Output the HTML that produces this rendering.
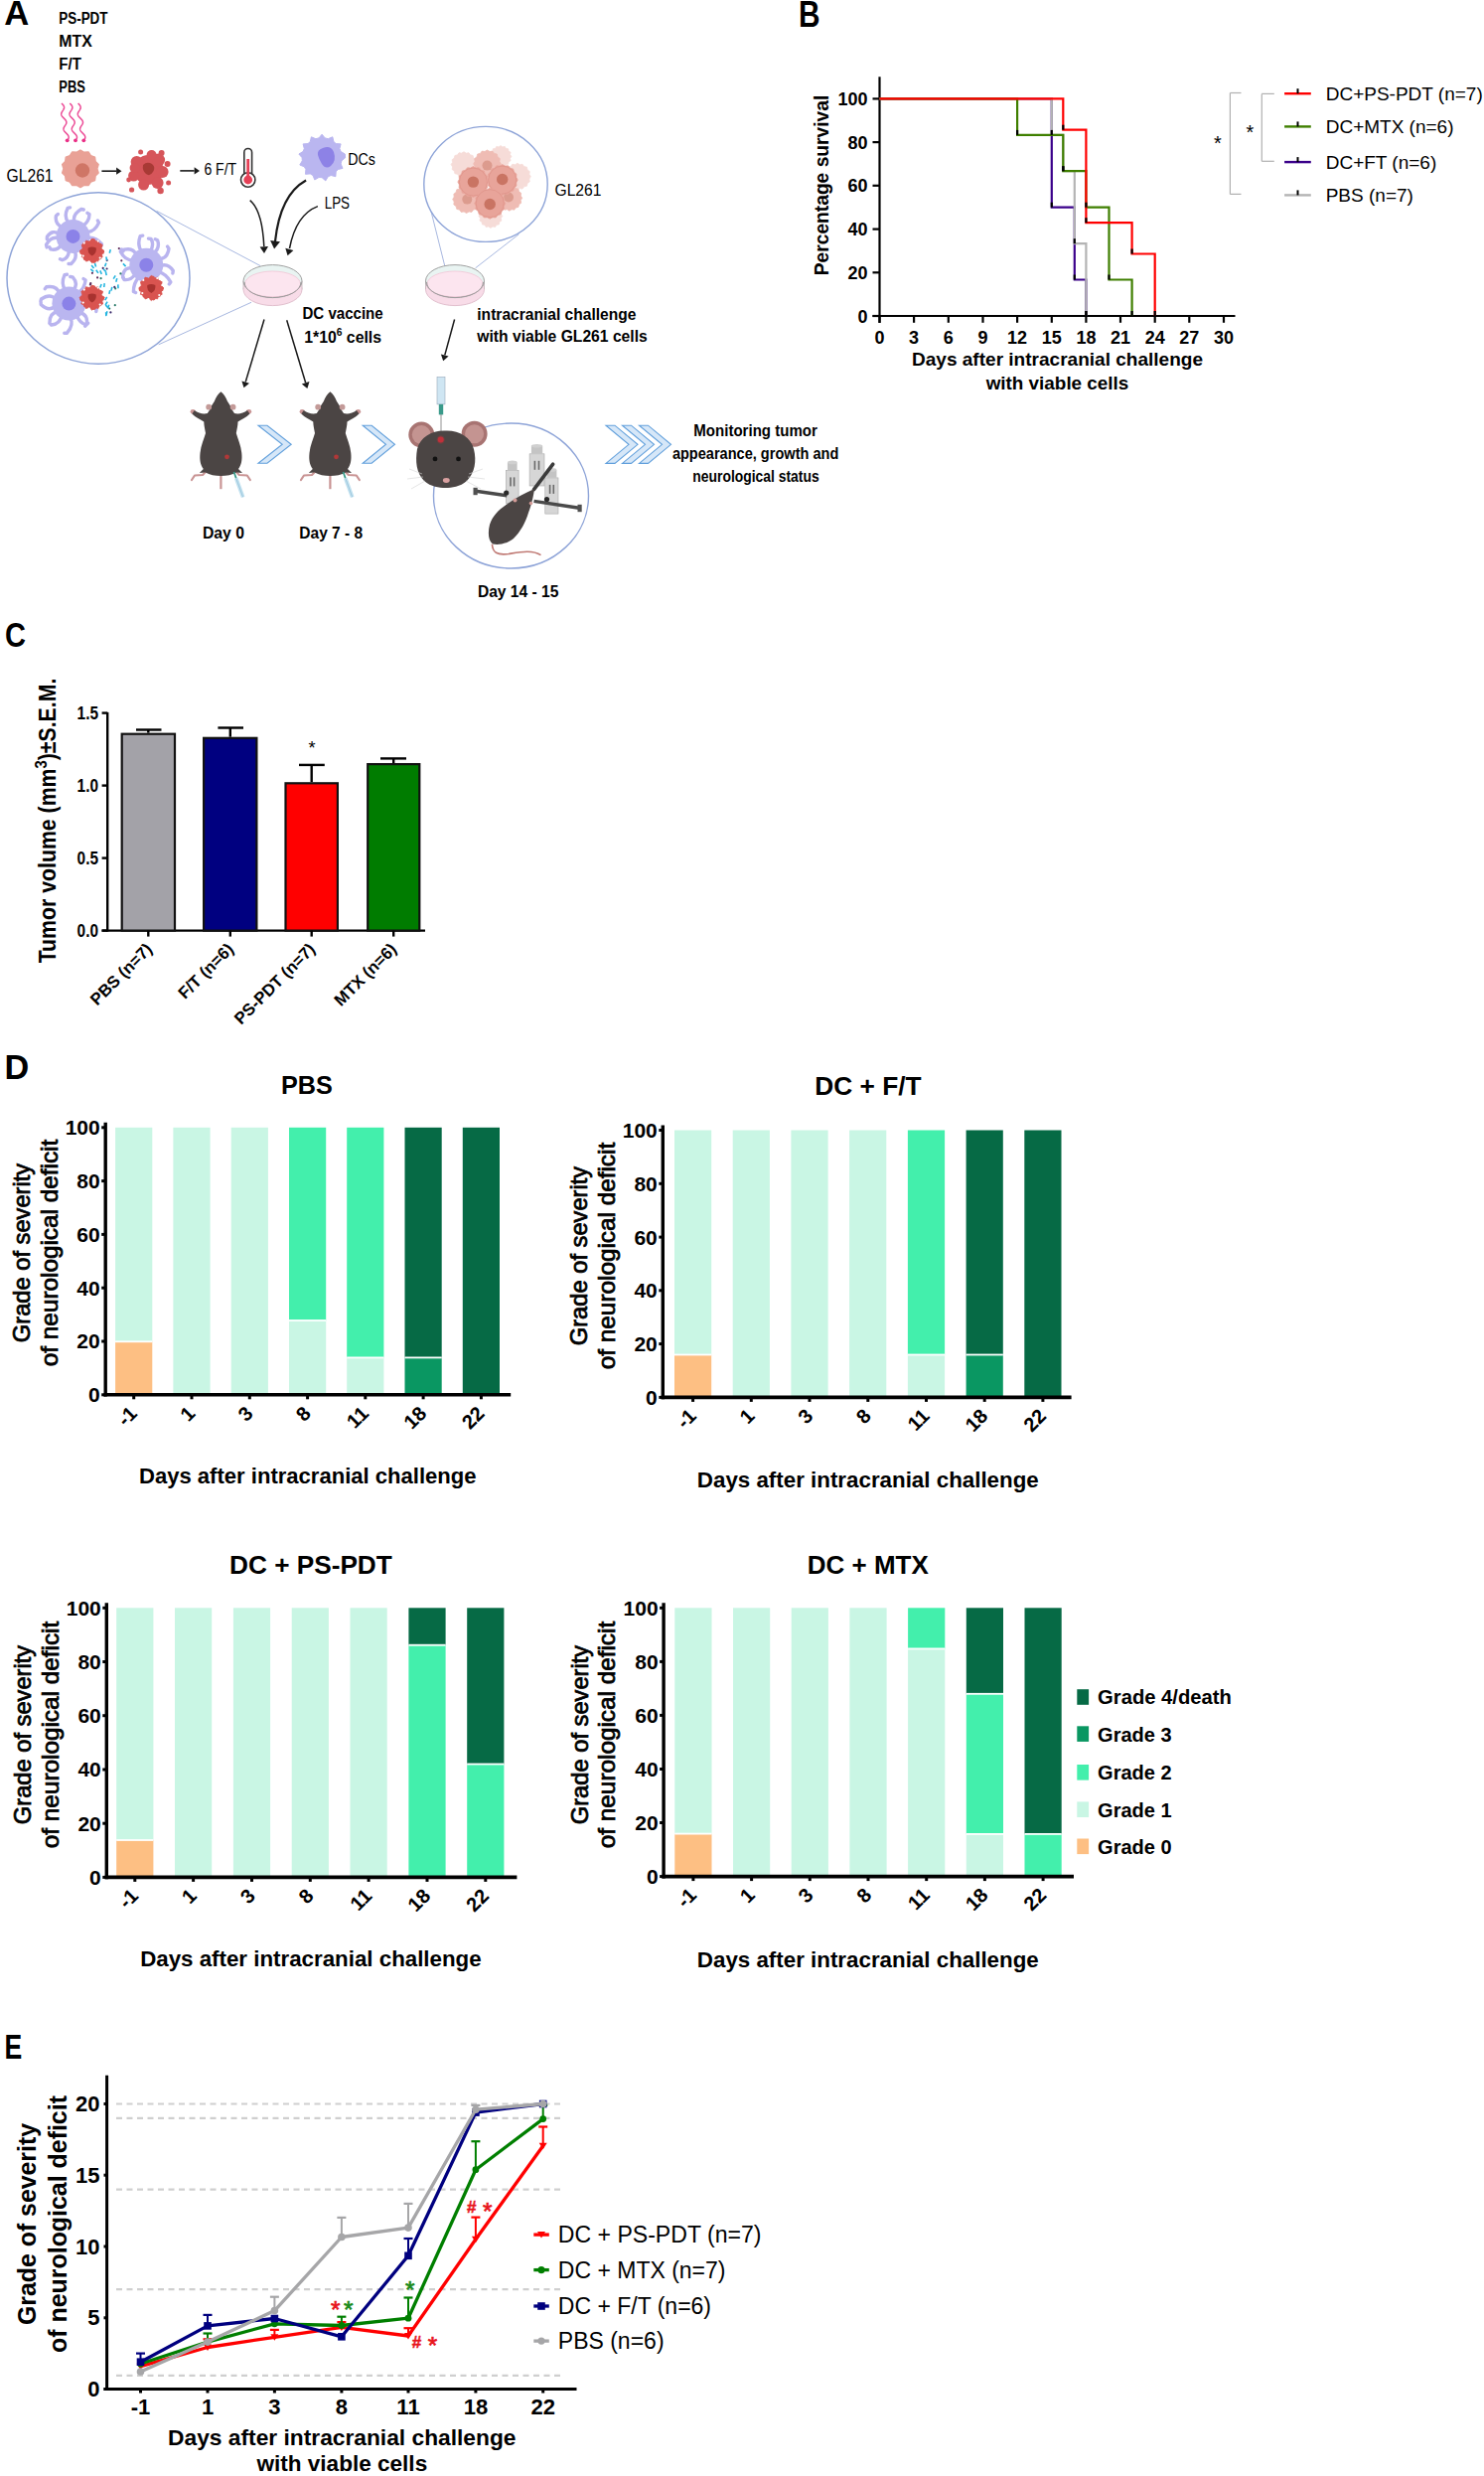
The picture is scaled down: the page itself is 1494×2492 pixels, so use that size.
<!DOCTYPE html>
<html><head><meta charset="utf-8"><title>Figure</title><style>html,body{margin:0;padding:0;background:#fff;}svg{display:block;font-family:"Liberation Sans",sans-serif;}text{font-family:"Liberation Sans",sans-serif;}</style></head><body>
<svg width="1494" height="2492" viewBox="0 0 1494 2492" font-family="Liberation Sans, sans-serif">
<rect width="1494" height="2492" fill="#fff"/>
<text x="0" y="0" font-size="35.90" font-weight="700" transform="translate(4.19 24.90) scale(0.965 1)">A</text>
<text x="59.3" y="24.3" font-size="16" font-weight="700" text-anchor="start" fill="#000" textLength="49.2" lengthAdjust="spacingAndGlyphs" >PS-PDT</text>
<text x="59.3" y="47.2" font-size="16" font-weight="700" text-anchor="start" fill="#000" textLength="33.5" lengthAdjust="spacingAndGlyphs" >MTX</text>
<text x="59.3" y="70.0" font-size="16" font-weight="700" text-anchor="start" fill="#000" textLength="22.5" lengthAdjust="spacingAndGlyphs" >F/T</text>
<text x="59.3" y="92.7" font-size="16" font-weight="700" text-anchor="start" fill="#000" textLength="26.5" lengthAdjust="spacingAndGlyphs" >PBS</text>
<polyline points="62.00,104.00 62.59,104.60 63.15,105.20 63.64,105.80 64.06,106.40 64.36,107.00 64.55,107.60 64.61,108.20 64.54,108.80 64.37,109.40 64.09,110.00 63.74,110.60 63.35,111.20 62.94,111.80 62.55,112.40 62.20,113.00 61.93,113.60 61.75,114.20 61.69,114.80 61.75,115.40 61.93,116.00 62.24,116.60 62.65,117.20 63.14,117.80 63.70,118.40 64.29,119.00 64.88,119.60 65.44,120.20 65.94,120.80 66.35,121.40 66.65,122.00 66.84,122.60 66.90,123.20 66.83,123.80 66.66,124.40 66.38,125.00 66.04,125.60 65.64,126.20 65.23,126.80 64.84,127.40 64.49,128.00 64.22,128.60 64.04,129.20 63.98,129.80 64.04,130.40 64.22,131.00 64.53,131.60 64.94,132.20 65.44,132.80 65.99,133.40 66.58,134.00 67.17,134.60 67.73,135.20 68.23,135.80 68.64,136.40 68.94,137.00 69.13,137.60 69.19,138.20 69.13,138.80 68.95,139.40 68.68,140.00" fill="none" stroke="#ec4d97" stroke-width="1.5"/>
<circle cx="67.7" cy="141.3" r="1.9" fill="#ea2f86" />
<polyline points="70.30,104.00 70.89,104.60 71.45,105.20 71.94,105.80 72.36,106.40 72.66,107.00 72.85,107.60 72.91,108.20 72.84,108.80 72.67,109.40 72.39,110.00 72.04,110.60 71.65,111.20 71.24,111.80 70.85,112.40 70.50,113.00 70.23,113.60 70.05,114.20 69.99,114.80 70.05,115.40 70.23,116.00 70.54,116.60 70.95,117.20 71.44,117.80 72.00,118.40 72.59,119.00 73.18,119.60 73.74,120.20 74.24,120.80 74.65,121.40 74.95,122.00 75.14,122.60 75.20,123.20 75.13,123.80 74.96,124.40 74.68,125.00 74.34,125.60 73.94,126.20 73.53,126.80 73.14,127.40 72.79,128.00 72.52,128.60 72.34,129.20 72.28,129.80 72.34,130.40 72.52,131.00 72.83,131.60 73.24,132.20 73.74,132.80 74.29,133.40 74.88,134.00 75.47,134.60 76.03,135.20 76.53,135.80 76.94,136.40 77.24,137.00 77.43,137.60 77.49,138.20 77.43,138.80 77.25,139.40 76.98,140.00" fill="none" stroke="#ec4d97" stroke-width="1.5"/>
<circle cx="76.0" cy="141.3" r="1.9" fill="#ea2f86" />
<polyline points="78.60,104.00 79.19,104.60 79.75,105.20 80.24,105.80 80.66,106.40 80.96,107.00 81.15,107.60 81.21,108.20 81.14,108.80 80.97,109.40 80.69,110.00 80.34,110.60 79.95,111.20 79.54,111.80 79.15,112.40 78.80,113.00 78.53,113.60 78.35,114.20 78.29,114.80 78.35,115.40 78.53,116.00 78.84,116.60 79.25,117.20 79.74,117.80 80.30,118.40 80.89,119.00 81.48,119.60 82.04,120.20 82.54,120.80 82.95,121.40 83.25,122.00 83.44,122.60 83.50,123.20 83.43,123.80 83.26,124.40 82.98,125.00 82.64,125.60 82.24,126.20 81.83,126.80 81.44,127.40 81.09,128.00 80.82,128.60 80.64,129.20 80.58,129.80 80.64,130.40 80.82,131.00 81.13,131.60 81.54,132.20 82.04,132.80 82.59,133.40 83.18,134.00 83.77,134.60 84.33,135.20 84.83,135.80 85.24,136.40 85.54,137.00 85.73,137.60 85.79,138.20 85.73,138.80 85.55,139.40 85.28,140.00" fill="none" stroke="#ec4d97" stroke-width="1.5"/>
<circle cx="84.3" cy="141.3" r="1.9" fill="#ea2f86" />
<polygon points="97.8,169.8 99.1,174.0 96.1,177.1 95.5,181.5 91.4,183.0 89.0,186.6 84.7,186.3 80.9,188.5 77.1,186.3 72.8,186.6 70.4,183.0 66.3,181.5 65.7,177.1 62.7,174.0 64.0,169.8 62.7,165.6 65.7,162.5 66.3,158.1 70.4,156.6 72.8,153.0 77.1,153.3 80.9,151.1 84.7,153.3 89.0,153.0 91.4,156.6 95.5,158.1 96.1,162.5 99.1,165.6" fill="#e9a196" stroke="#e9a196" stroke-width="1.5" stroke-linejoin="round"/>
<circle cx="83.0" cy="171.5" r="7.2" fill="#cf7666" />
<line x1="102.4" y1="172.2" x2="117.1" y2="172.2" stroke="#1a1a1a" stroke-width="1.6" />
<path d="M122.5,172.2 L117.1,168.6 L117.1,175.8 Z" fill="#1a1a1a" stroke="none" stroke-width="1" />
<line x1="181.3" y1="171.9" x2="195.6" y2="171.9" stroke="#1a1a1a" stroke-width="1.6" />
<path d="M201.0,171.9 L195.6,168.3 L195.6,175.5 Z" fill="#1a1a1a" stroke="none" stroke-width="1" />
<circle cx="149.6" cy="171.0" r="15.0" fill="#d6555a" />
<circle cx="137.6" cy="163.0" r="6.0" fill="#d6555a" />
<circle cx="159.6" cy="161.0" r="6.5" fill="#d6555a" />
<circle cx="163.6" cy="173.0" r="6.0" fill="#d6555a" />
<circle cx="158.6" cy="184.0" r="6.0" fill="#d6555a" />
<circle cx="144.6" cy="186.0" r="5.5" fill="#d6555a" />
<circle cx="134.6" cy="177.0" r="5.5" fill="#d6555a" />
<circle cx="135.6" cy="169.0" r="5.0" fill="#d6555a" />
<circle cx="152.6" cy="156.0" r="5.0" fill="#d6555a" />
<circle cx="141.6" cy="153.0" r="2.5" fill="#d6555a" />
<circle cx="162.6" cy="154.0" r="3.0" fill="#d6555a" />
<circle cx="168.6" cy="165.0" r="3.0" fill="#d6555a" />
<circle cx="129.6" cy="181.0" r="2.4" fill="#d6555a" />
<circle cx="132.6" cy="191.0" r="2.6" fill="#d6555a" />
<circle cx="161.6" cy="192.0" r="3.2" fill="#d6555a" />
<circle cx="169.6" cy="184.0" r="2.5" fill="#d6555a" />
<path d="M144,166 q4,-4 9,-1 q4,3 1,8 q-3,5 -7,2 q-4,-3 -3,-9 Z" fill="#a83a35" stroke="none" stroke-width="1" />
<text x="205.4" y="175.6" font-size="16" font-weight="400" text-anchor="start" fill="#000" textLength="32.8" lengthAdjust="spacingAndGlyphs" >6 F/T</text>
<rect x="245.8" y="149.5" width="7.8" height="30" rx="3.9" fill="#fff" stroke="#333" stroke-width="1.6"/>
<circle cx="249.7" cy="181.0" r="7.2" fill="#fff" stroke="#333" stroke-width="1.6"/>
<rect x="248.3" y="160.0" width="2.8" height="21.0" fill="#e54056" />
<circle cx="249.7" cy="181.0" r="4.4" fill="#e54056" />
<polygon points="347.6,158.7 343.9,161.8 343.1,164.9 345.0,169.4 340.3,170.5 338.2,172.8 337.9,177.7 333.2,176.5 330.3,177.7 327.8,181.9 324.1,178.7 321.0,178.5 316.8,181.0 315.0,176.5 312.3,174.9 307.5,175.3 307.9,170.5 306.3,167.8 301.8,166.0 304.3,161.8 304.1,158.7 300.9,155.0 305.1,152.5 306.3,149.6 305.1,144.9 310.0,144.6 312.3,142.5 313.4,137.8 317.9,139.7 321.0,138.9 324.1,135.2 327.2,138.9 330.3,139.7 334.8,137.8 335.9,142.5 338.2,144.6 343.1,144.9 341.9,149.6 343.1,152.5 347.3,155.0" fill="#bab6f0" stroke="#bab6f0" stroke-width="1" stroke-linejoin="round"/>
<path d="M325,149 q8,-3 11,4 q3,9 -3,14 q-5,4 -9,-2 q-3,-5 -4,-9 q-1,-5 5,-7 Z" fill="#8d82e6" stroke="none" stroke-width="1" />
<text x="350.3" y="165.5" font-size="16.5" font-weight="400" text-anchor="start" fill="#000" textLength="27.7" lengthAdjust="spacingAndGlyphs" >DCs</text>
<text x="326.7" y="210.1" font-size="16.5" font-weight="400" text-anchor="start" fill="#000" textLength="25.3" lengthAdjust="spacingAndGlyphs" >LPS</text>
<path d="M251.7,201.7 Q264,212 265.8,248" fill="none" stroke="#1a1a1a" stroke-width="1.5" />
<path d="M266.0,255.0 L270.0,248.1 L261.6,248.4 Z" fill="#1a1a1a" stroke="none" stroke-width="1" />
<path d="M308.1,181.5 Q282,196 277,243" fill="none" stroke="#1a1a1a" stroke-width="2.2" />
<path d="M276.1,250.5 L282.0,243.2 L272.1,242.0 Z" fill="#1a1a1a" stroke="none" stroke-width="1" />
<path d="M319.9,207.6 Q298,216 291.5,250" fill="none" stroke="#1a1a1a" stroke-width="1.5" />
<path d="M289.6,257.3 L295.4,251.9 L287.3,249.7 Z" fill="#1a1a1a" stroke="none" stroke-width="1" />
<line x1="157.7" y1="212.3" x2="262.0" y2="267.5" stroke="#a8b8e0" stroke-width="1" />
<line x1="159.7" y1="346.8" x2="253.0" y2="304.3" stroke="#a8b8e0" stroke-width="1" />
<ellipse cx="274.5" cy="291.29999999999995" rx="29.5" ry="16.3" fill="#f8dce8" stroke="#d9b3c3" stroke-width="0.8"/>
<rect x="245.0" y="282.9" width="59.0" height="8.4" fill="#f8dce8" />
<line x1="245.0" y1="282.9" x2="245.0" y2="291.3" stroke="#c4b4ba" stroke-width="0.8" />
<line x1="304.0" y1="282.9" x2="304.0" y2="291.3" stroke="#c4b4ba" stroke-width="0.8" />
<ellipse cx="274.5" cy="282.9" rx="29.5" ry="16.3" fill="#e9f4f2" stroke="#a0a0a0" stroke-width="1"/>
<ellipse cx="274.5" cy="285.9" rx="28.0" ry="12.9" fill="#fce5ef" stroke="#f0b8cc" stroke-width="0.6"/>
<path d="M246.0,283.9 A28.5,15.700000000000001 0 0 0 303.0,283.9" fill="none" stroke="#9a9a9a" stroke-width="1"/>
<ellipse cx="99" cy="280" rx="92" ry="86.2" fill="#fff" stroke="#8ea4d8" stroke-width="1.5"/>
<path d="M82.1,249.0 Q85.1,256.6 93.8,259.1 L95.6,257.3 M74.7,251.8 Q78.9,259.2 71.5,265.6 L69.0,265.5 M69.4,251.3 Q69.7,259.6 62.8,261.7 L60.5,260.7 M62.2,246.1 Q57.2,252.7 51.0,250.9 L49.8,248.7 M59.6,239.8 Q51.5,237.1 46.5,246.4 L47.1,248.9 M59.7,235.6 Q52.7,230.6 47.4,238.2 L47.3,240.7 M63.1,228.6 Q55.1,225.9 56.4,217.2 L58.3,215.5 M69.1,224.6 Q63.8,218.2 68.1,209.4 L70.5,208.9 M75.1,224.0 Q72.2,215.9 81.8,210.4 L84.2,211.0 M82.9,227.6 Q89.9,223.2 90.0,215.7 L88.0,214.3 M86.7,233.3 Q95.2,234.0 99.5,224.1 L98.4,221.9 M87.4,239.7 Q95.5,237.8 102.4,245.6 L101.8,248.0 M84.9,246.0 Q93.1,248.0 93.0,256.2 L91.3,258.1" fill="none" stroke="#b9b4ef" stroke-width="3.4" stroke-linecap="round" stroke-linejoin="round"/>
<circle cx="73.5" cy="237.9" r="17.0" fill="#bab6f0" />
<circle cx="73.5" cy="237.9" r="7.0" fill="#8b82e8" />
<path d="M140.1,278.7 Q134.4,284.5 134.4,293.5 L136.6,294.5 M136.5,275.6 Q131.9,282.4 125.1,281.5 L123.7,279.3 M133.7,270.1 Q125.3,268.1 123.5,277.5 L124.4,279.8 M134.1,262.0 Q125.8,262.2 121.3,253.3 L122.5,251.1 M137.3,256.9 Q134.4,248.9 125.1,251.2 L123.6,253.2 M142.8,253.4 Q137.7,246.9 141.2,237.6 L143.7,237.1 M151.2,253.2 Q155.5,246.3 152.0,240.5 L149.5,240.1 M154.7,254.8 Q161.3,249.7 158.6,241.8 L156.3,240.8 M159.9,260.6 Q168.5,260.8 170.0,250.2 L168.6,248.1 M161.3,267.5 Q169.2,264.4 174.3,272.5 L173.9,275.0 M159.5,273.6 Q167.4,275.6 171.8,283.9 L170.3,285.9 M153.7,279.1 Q160.1,284.6 156.7,294.0 L154.3,294.8 M148.9,280.6 Q152.6,288.0 146.9,293.8 L144.4,293.8" fill="none" stroke="#b9b4ef" stroke-width="3.4" stroke-linecap="round" stroke-linejoin="round"/>
<circle cx="147.3" cy="266.7" r="17.0" fill="#bab6f0" />
<circle cx="147.3" cy="266.7" r="7.0" fill="#8b82e8" />
<path d="M55.7,308.4 Q48.9,313.7 41.2,306.5 L41.1,304.0 M56.2,301.0 Q50.2,294.9 41.5,301.0 L40.9,303.4 M59.8,295.4 Q57.5,287.1 46.7,288.8 L45.2,290.7 M65.7,292.1 Q61.1,285.2 65.0,276.6 L67.5,276.2 M73.6,292.3 Q79.4,286.0 73.2,278.9 L70.7,278.5 M78.5,295.0 Q85.3,290.4 86.1,281.9 L84.0,280.6 M82.9,301.8 Q91.3,303.2 93.1,294.6 L92.1,292.3 M83.4,306.2 Q91.3,303.3 97.2,311.1 L96.8,313.6 M80.2,314.5 Q88.6,316.3 87.4,326.5 L85.6,328.2 M77.2,317.2 Q79.9,324.9 86.8,326.9 L88.7,325.2 M70.6,319.5 Q74.8,326.9 67.3,335.4 L64.8,335.3 M62.1,317.6 Q60.6,325.8 51.9,327.0 L49.9,325.5 M58.0,313.7 Q49.6,315.1 49.9,325.2 L51.6,327.0" fill="none" stroke="#b9b4ef" stroke-width="3.4" stroke-linecap="round" stroke-linejoin="round"/>
<circle cx="69.4" cy="305.6" r="17.0" fill="#bab6f0" />
<circle cx="69.4" cy="305.6" r="7.0" fill="#8b82e8" />
<polygon points="104.8,252.6 102.2,255.2 103.2,258.6 99.7,259.6 98.8,263.1 95.3,262.1 92.7,264.7 90.1,262.1 86.7,263.1 85.7,259.6 82.2,258.6 83.2,255.2 80.6,252.6 83.2,250.0 82.2,246.5 85.7,245.6 86.6,242.1 90.1,243.1 92.7,240.5 95.3,243.1 98.8,242.1 99.7,245.6 103.2,246.5 102.2,250.0" fill="#d95450" stroke="#d95450" stroke-width="0.8" stroke-linejoin="round" />
<circle cx="85.7" cy="246.6" r="3.0" fill="#d95450" />
<circle cx="99.7" cy="247.6" r="3.2" fill="#d95450" />
<circle cx="99.7" cy="258.6" r="3.0" fill="#d95450" />
<circle cx="86.7" cy="259.6" r="3.0" fill="#d95450" />
<circle cx="93.7" cy="242.6" r="2.6" fill="#d95450" />
<circle cx="82.7" cy="253.6" r="2.6" fill="#d95450" />
<circle cx="102.7" cy="253.6" r="2.4" fill="#d95450" />
<circle cx="94.7" cy="262.6" r="2.4" fill="#d95450" />
<path d="M88.7,249.6 q4,-2 8,0 q1,5 -4,8 q-5,-3 -4,-8 Z" fill="#a8322f" stroke="none" stroke-width="1" />
<circle cx="83.7" cy="257.6" r="1.1" fill="#ffffff" />
<circle cx="100.7" cy="259.6" r="1.1" fill="#ffffff" />
<circle cx="84.7" cy="244.6" r="1.1" fill="#ffffff" />
<circle cx="98.7" cy="242.6" r="1.1" fill="#ffffff" />
<circle cx="103.7" cy="249.6" r="1.1" fill="#ffffff" />
<circle cx="89.7" cy="263.6" r="1.1" fill="#ffffff" />
<polygon points="105.3,299.6 102.7,302.3 103.6,305.9 100.0,306.9 99.0,310.5 95.4,309.6 92.7,312.2 90.0,309.6 86.4,310.5 85.4,306.9 81.8,305.9 82.7,302.3 80.1,299.6 82.7,296.9 81.8,293.3 85.4,292.3 86.4,288.7 90.0,289.6 92.7,287.0 95.4,289.6 99.0,288.7 100.0,292.3 103.6,293.3 102.7,296.9" fill="#d95450" stroke="#d95450" stroke-width="0.8" stroke-linejoin="round" />
<circle cx="85.7" cy="293.6" r="3.0" fill="#d95450" />
<circle cx="99.7" cy="294.6" r="3.2" fill="#d95450" />
<circle cx="99.7" cy="305.6" r="3.0" fill="#d95450" />
<circle cx="86.7" cy="306.6" r="3.0" fill="#d95450" />
<circle cx="93.7" cy="289.6" r="2.6" fill="#d95450" />
<circle cx="82.7" cy="300.6" r="2.6" fill="#d95450" />
<circle cx="102.7" cy="300.6" r="2.4" fill="#d95450" />
<circle cx="94.7" cy="309.6" r="2.4" fill="#d95450" />
<path d="M88.7,296.6 q4,-2 8,0 q1,5 -4,8 q-5,-3 -4,-8 Z" fill="#a8322f" stroke="none" stroke-width="1" />
<circle cx="83.7" cy="304.6" r="1.1" fill="#ffffff" />
<circle cx="100.7" cy="306.6" r="1.1" fill="#ffffff" />
<circle cx="84.7" cy="291.6" r="1.1" fill="#ffffff" />
<circle cx="98.7" cy="289.6" r="1.1" fill="#ffffff" />
<circle cx="103.7" cy="296.6" r="1.1" fill="#ffffff" />
<circle cx="89.7" cy="310.6" r="1.1" fill="#ffffff" />
<polygon points="164.9,290.0 162.3,292.7 163.2,296.3 159.6,297.3 158.6,300.9 155.0,300.0 152.3,302.6 149.6,300.0 146.0,300.9 145.0,297.3 141.4,296.3 142.3,292.7 139.7,290.0 142.3,287.3 141.4,283.7 145.0,282.7 146.0,279.1 149.6,280.0 152.3,277.4 155.0,280.0 158.6,279.1 159.6,282.7 163.2,283.7 162.3,287.3" fill="#d95450" stroke="#d95450" stroke-width="0.8" stroke-linejoin="round" />
<circle cx="145.3" cy="284.0" r="3.0" fill="#d95450" />
<circle cx="159.3" cy="285.0" r="3.2" fill="#d95450" />
<circle cx="159.3" cy="296.0" r="3.0" fill="#d95450" />
<circle cx="146.3" cy="297.0" r="3.0" fill="#d95450" />
<circle cx="153.3" cy="280.0" r="2.6" fill="#d95450" />
<circle cx="142.3" cy="291.0" r="2.6" fill="#d95450" />
<circle cx="162.3" cy="291.0" r="2.4" fill="#d95450" />
<circle cx="154.3" cy="300.0" r="2.4" fill="#d95450" />
<path d="M148.3,287.0 q4,-2 8,0 q1,5 -4,8 q-5,-3 -4,-8 Z" fill="#a8322f" stroke="none" stroke-width="1" />
<circle cx="143.3" cy="295.0" r="1.1" fill="#ffffff" />
<circle cx="160.3" cy="297.0" r="1.1" fill="#ffffff" />
<circle cx="144.3" cy="282.0" r="1.1" fill="#ffffff" />
<circle cx="158.3" cy="280.0" r="1.1" fill="#ffffff" />
<circle cx="163.3" cy="287.0" r="1.1" fill="#ffffff" />
<circle cx="149.3" cy="301.0" r="1.1" fill="#ffffff" />
<circle cx="119.8" cy="250.1" r="1.1" fill="#5a2a5a" />
<circle cx="90.9" cy="286.4" r="1.1" fill="#5a2a5a" />
<circle cx="107.7" cy="262.1" r="1.1" fill="#5a2a5a" />
<line x1="108.1" y1="303.7" x2="106.1" y2="307.0" stroke="#23b5e0" stroke-width="1.6" />
<line x1="118.8" y1="286.4" x2="119.0" y2="290.2" stroke="#23b5e0" stroke-width="1.6" />
<line x1="106.6" y1="314.3" x2="106.9" y2="318.1" stroke="#23b5e0" stroke-width="1.6" />
<circle cx="92.9" cy="274.8" r="1.1" fill="#5a2a5a" />
<line x1="92.1" y1="266.9" x2="94.5" y2="269.9" stroke="#23b5e0" stroke-width="1.6" />
<circle cx="116.2" cy="290.4" r="1.1" fill="#2a7a6a" />
<circle cx="115.3" cy="288.9" r="1.1" fill="#3a2a6a" />
<circle cx="121.4" cy="275.4" r="1.1" fill="#2a7a6a" />
<circle cx="110.2" cy="310.6" r="1.1" fill="#2a7a6a" />
<circle cx="122.3" cy="262.3" r="1.1" fill="#5a2a5a" />
<circle cx="101.6" cy="280.2" r="1.1" fill="#2a7a6a" />
<line x1="123.9" y1="265.4" x2="126.6" y2="268.1" stroke="#23b5e0" stroke-width="1.6" />
<line x1="107.7" y1="298.8" x2="105.8" y2="302.1" stroke="#23b5e0" stroke-width="1.6" />
<line x1="107.9" y1="313.3" x2="107.0" y2="317.0" stroke="#23b5e0" stroke-width="1.6" />
<circle cx="115.8" cy="307.2" r="1.1" fill="#2a7a6a" />
<circle cx="103.7" cy="269.9" r="1.1" fill="#3a2a6a" />
<line x1="116.2" y1="277.4" x2="114.2" y2="280.6" stroke="#23b5e0" stroke-width="1.6" />
<line x1="110.7" y1="292.2" x2="109.9" y2="295.9" stroke="#23b5e0" stroke-width="1.6" />
<line x1="102.1" y1="286.0" x2="100.8" y2="289.6" stroke="#23b5e0" stroke-width="1.6" />
<line x1="100.8" y1="272.4" x2="102.3" y2="275.9" stroke="#23b5e0" stroke-width="1.6" />
<line x1="117.8" y1="280.1" x2="116.8" y2="283.7" stroke="#23b5e0" stroke-width="1.6" />
<line x1="106.3" y1="306.9" x2="108.8" y2="309.8" stroke="#23b5e0" stroke-width="1.6" />
<line x1="106.9" y1="264.7" x2="105.6" y2="268.3" stroke="#23b5e0" stroke-width="1.6" />
<circle cx="107.6" cy="270.5" r="1.1" fill="#3a2a6a" />
<circle cx="98.1" cy="279.4" r="1.1" fill="#5a2a5a" />
<line x1="95.5" y1="265.0" x2="96.6" y2="268.6" stroke="#23b5e0" stroke-width="1.6" />
<line x1="105.2" y1="285.2" x2="104.7" y2="289.0" stroke="#23b5e0" stroke-width="1.6" />
<line x1="112.8" y1="288.8" x2="112.0" y2="292.6" stroke="#23b5e0" stroke-width="1.6" />
<line x1="109.7" y1="306.8" x2="108.6" y2="310.5" stroke="#23b5e0" stroke-width="1.6" />
<line x1="106.4" y1="273.3" x2="107.2" y2="277.1" stroke="#23b5e0" stroke-width="1.6" />
<line x1="106.8" y1="258.5" x2="107.8" y2="262.2" stroke="#23b5e0" stroke-width="1.6" />
<circle cx="91.3" cy="285.2" r="1.1" fill="#5a2a5a" />
<line x1="91.3" y1="270.8" x2="94.2" y2="273.3" stroke="#23b5e0" stroke-width="1.6" />
<line x1="96.8" y1="271.7" x2="98.9" y2="274.9" stroke="#23b5e0" stroke-width="1.6" />
<line x1="104.1" y1="270.9" x2="106.8" y2="273.5" stroke="#23b5e0" stroke-width="1.6" />
<circle cx="111.4" cy="314.4" r="1.1" fill="#3a2a6a" />
<line x1="111.2" y1="251.1" x2="110.3" y2="254.8" stroke="#23b5e0" stroke-width="1.6" />
<line x1="431.7" y1="203.5" x2="447.9" y2="268.2" stroke="#a8b8e0" stroke-width="1" />
<line x1="522.3" y1="235.8" x2="478.6" y2="269.8" stroke="#a8b8e0" stroke-width="1" />
<ellipse cx="489" cy="185.4" rx="62.2" ry="58" fill="#fff" stroke="#8ea4d8" stroke-width="1.4"/>
<polygon points="479.9,165.6 478.4,167.9 478.9,170.5 476.7,172.1 476.1,174.7 473.5,175.3 471.9,177.5 469.3,177.0 467.0,178.5 464.7,177.0 462.1,177.5 460.5,175.3 457.9,174.7 457.3,172.1 455.1,170.5 455.6,167.9 454.1,165.6 455.6,163.3 455.1,160.7 457.3,159.1 457.9,156.5 460.5,155.9 462.1,153.7 464.7,154.2 467.0,152.7 469.3,154.2 471.9,153.7 473.5,155.9 476.1,156.5 476.7,159.1 478.9,160.7 478.4,163.3" fill="#f6dcd8" stroke="#f6dcd8" stroke-width="0.8" stroke-linejoin="round" />
<polygon points="534.3,177.7 532.8,180.1 533.3,182.8 531.0,184.4 530.4,187.2 527.6,187.8 526.0,190.1 523.3,189.6 520.9,191.1 518.5,189.6 515.8,190.1 514.2,187.8 511.4,187.2 510.8,184.4 508.5,182.8 509.0,180.1 507.5,177.7 509.0,175.3 508.5,172.6 510.8,171.0 511.4,168.2 514.2,167.6 515.8,165.3 518.5,165.8 520.9,164.3 523.3,165.8 526.0,165.3 527.6,167.6 530.4,168.2 531.0,171.0 533.3,172.6 532.8,175.3" fill="#f6dcd8" stroke="#f6dcd8" stroke-width="0.8" stroke-linejoin="round" />
<polygon points="505.8,217.5 504.3,219.6 504.9,222.1 502.7,223.4 502.3,225.9 499.8,226.3 498.5,228.5 496.0,227.9 493.9,229.4 491.8,227.9 489.3,228.5 488.0,226.3 485.5,225.9 485.1,223.4 482.9,222.1 483.5,219.6 482.0,217.5 483.5,215.4 482.9,212.9 485.1,211.6 485.5,209.1 488.0,208.7 489.3,206.5 491.8,207.1 493.9,205.6 496.0,207.1 498.5,206.5 499.8,208.7 502.3,209.1 502.7,211.6 504.9,212.9 504.3,215.4" fill="#f6dcd8" stroke="#f6dcd8" stroke-width="0.8" stroke-linejoin="round" />
<polygon points="514.9,157.5 513.5,159.4 514.1,161.7 512.0,162.9 511.7,165.2 509.4,165.5 508.2,167.6 505.9,167.0 504.0,168.4 502.1,167.0 499.8,167.6 498.6,165.5 496.3,165.2 496.0,162.9 493.9,161.7 494.5,159.4 493.1,157.5 494.5,155.6 493.9,153.3 496.0,152.1 496.3,149.8 498.6,149.5 499.8,147.4 502.1,148.0 504.0,146.6 505.9,148.0 508.2,147.4 509.4,149.5 511.7,149.8 512.0,152.1 514.1,153.3 513.5,155.6" fill="#f6dcd8" stroke="#f6dcd8" stroke-width="0.8" stroke-linejoin="round" />
<polygon points="504.4,164.9 502.9,167.4 503.3,170.2 501.0,171.9 500.3,174.7 497.5,175.4 495.8,177.7 493.0,177.3 490.5,178.8 488.0,177.3 485.2,177.7 483.5,175.4 480.7,174.7 480.0,171.9 477.7,170.2 478.1,167.4 476.6,164.9 478.1,162.4 477.7,159.6 480.0,157.9 480.7,155.1 483.5,154.4 485.2,152.1 488.0,152.5 490.5,151.0 493.0,152.5 495.8,152.1 497.5,154.4 500.3,155.1 501.0,157.9 503.3,159.6 502.9,162.4" fill="#efbcb4" stroke="#efbcb4" stroke-width="0.8" stroke-linejoin="round" />
<circle cx="490.5" cy="166.6" r="5.0" fill="#dc9b8e" />
<polygon points="483.5,200.6 482.0,203.1 482.4,205.9 480.1,207.6 479.4,210.4 476.6,211.1 474.9,213.4 472.1,213.0 469.6,214.5 467.1,213.0 464.3,213.4 462.6,211.1 459.8,210.4 459.1,207.6 456.8,205.9 457.2,203.1 455.7,200.6 457.2,198.1 456.8,195.3 459.1,193.6 459.8,190.8 462.6,190.1 464.3,187.8 467.1,188.2 469.6,186.7 472.1,188.2 474.9,187.8 476.6,190.1 479.4,190.8 480.1,193.6 482.4,195.3 482.0,198.1" fill="#efbcb4" stroke="#efbcb4" stroke-width="0.8" stroke-linejoin="round" />
<circle cx="470.3" cy="200.6" r="5.0" fill="#dc9b8e" />
<polygon points="525.7,199.3 524.2,201.6 524.7,204.2 522.5,205.8 521.9,208.4 519.3,209.0 517.7,211.2 515.1,210.7 512.8,212.2 510.5,210.7 507.9,211.2 506.3,209.0 503.7,208.4 503.1,205.8 500.9,204.2 501.4,201.6 499.9,199.3 501.4,197.0 500.9,194.4 503.1,192.8 503.7,190.2 506.3,189.6 507.9,187.4 510.5,187.9 512.8,186.4 515.1,187.9 517.7,187.4 519.3,189.6 521.9,190.2 522.5,192.8 524.7,194.4 524.2,197.0" fill="#efbcb4" stroke="#efbcb4" stroke-width="0.8" stroke-linejoin="round" />
<circle cx="512.0" cy="198.5" r="5.0" fill="#dc9b8e" />
<polygon points="491.9,183.1 490.4,185.9 490.7,189.0 488.2,191.0 487.4,194.1 484.3,194.9 482.3,197.4 479.2,197.1 476.4,198.6 473.6,197.1 470.5,197.4 468.5,194.9 465.4,194.1 464.6,191.0 462.1,189.0 462.4,185.9 460.9,183.1 462.4,180.3 462.1,177.2 464.6,175.2 465.4,172.1 468.5,171.3 470.5,168.8 473.6,169.1 476.4,167.6 479.2,169.1 482.3,168.8 484.3,171.3 487.4,172.1 488.2,175.2 490.7,177.2 490.4,180.3" fill="#e8a49a" stroke="#e8a49a" stroke-width="0.8" stroke-linejoin="round" />
<circle cx="476.4" cy="183.1" r="14" fill="none" stroke="#dc8f85" stroke-width="0.6"/>
<circle cx="476.4" cy="183.1" r="5.7" fill="#c97463" />
<polygon points="521.2,181.1 519.7,183.9 520.0,187.0 517.5,189.0 516.7,192.1 513.6,192.9 511.6,195.4 508.5,195.1 505.7,196.6 502.9,195.1 499.8,195.4 497.8,192.9 494.7,192.1 493.9,189.0 491.4,187.0 491.7,183.9 490.2,181.1 491.7,178.3 491.4,175.2 493.9,173.2 494.7,170.1 497.8,169.3 499.8,166.8 502.9,167.1 505.7,165.6 508.5,167.1 511.6,166.8 513.6,169.3 516.7,170.1 517.5,173.2 520.0,175.2 519.7,178.3" fill="#e8a49a" stroke="#e8a49a" stroke-width="0.8" stroke-linejoin="round" />
<circle cx="505.7" cy="181.1" r="14" fill="none" stroke="#dc8f85" stroke-width="0.6"/>
<circle cx="505.7" cy="180.5" r="5.7" fill="#c97463" />
<polygon points="508.7,204.7 507.2,207.5 507.5,210.6 505.0,212.6 504.2,215.7 501.1,216.5 499.1,219.0 496.0,218.7 493.2,220.2 490.4,218.7 487.3,219.0 485.3,216.5 482.2,215.7 481.4,212.6 478.9,210.6 479.2,207.5 477.7,204.7 479.2,201.9 478.9,198.8 481.4,196.8 482.2,193.7 485.3,192.9 487.3,190.4 490.4,190.7 493.2,189.2 496.0,190.7 499.1,190.4 501.1,192.9 504.2,193.7 505.0,196.8 507.5,198.8 507.2,201.9" fill="#e8a49a" stroke="#e8a49a" stroke-width="0.8" stroke-linejoin="round" />
<circle cx="493.2" cy="204.7" r="14" fill="none" stroke="#dc8f85" stroke-width="0.6"/>
<circle cx="493.2" cy="205.5" r="5.7" fill="#c97463" />
<text x="558.5" y="197.0" font-size="16.5" font-weight="400" text-anchor="start" fill="#000" textLength="46.9" lengthAdjust="spacingAndGlyphs" >GL261</text>
<ellipse cx="458" cy="291.29999999999995" rx="29.5" ry="16.3" fill="#f8dce8" stroke="#d9b3c3" stroke-width="0.8"/>
<rect x="428.5" y="282.9" width="59.0" height="8.4" fill="#f8dce8" />
<line x1="428.5" y1="282.9" x2="428.5" y2="291.3" stroke="#c4b4ba" stroke-width="0.8" />
<line x1="487.5" y1="282.9" x2="487.5" y2="291.3" stroke="#c4b4ba" stroke-width="0.8" />
<ellipse cx="458" cy="282.9" rx="29.5" ry="16.3" fill="#e9f4f2" stroke="#a0a0a0" stroke-width="1"/>
<ellipse cx="458" cy="285.9" rx="28.0" ry="12.9" fill="#fce5ef" stroke="#f0b8cc" stroke-width="0.6"/>
<path d="M429.5,283.9 A28.5,15.700000000000001 0 0 0 486.5,283.9" fill="none" stroke="#9a9a9a" stroke-width="1"/>
<text x="6.5" y="183.3" font-size="18" font-weight="400" text-anchor="start" fill="#000" textLength="47.1" lengthAdjust="spacingAndGlyphs" >GL261</text>
<text x="304.5" y="320.7" font-size="17" font-weight="700" text-anchor="start" fill="#000" textLength="81.2" lengthAdjust="spacingAndGlyphs" >DC vaccine</text>
<text x="306.2" y="345" font-size="17" font-weight="700" textLength="77.9" lengthAdjust="spacingAndGlyphs">1*10<tspan font-size="11" dy="-7">6</tspan><tspan dy="7"> cells</tspan></text>
<text x="480.3" y="321.5" font-size="17" font-weight="700" text-anchor="start" fill="#000" textLength="160.1" lengthAdjust="spacingAndGlyphs" >intracranial challenge</text>
<text x="480.3" y="344.2" font-size="17" font-weight="700" text-anchor="start" fill="#000" textLength="171.4" lengthAdjust="spacingAndGlyphs" >with viable GL261 cells</text>
<line x1="266.0" y1="321.5" x2="247.2" y2="384.5" stroke="#1a1a1a" stroke-width="1.5" />
<path d="M245.5,390.3 L251.0,385.7 L243.4,383.4 Z" fill="#1a1a1a" stroke="none" stroke-width="1" />
<line x1="288.7" y1="322.3" x2="307.7" y2="385.3" stroke="#1a1a1a" stroke-width="1.5" />
<path d="M309.4,391.0 L311.5,384.1 L303.8,386.4 Z" fill="#1a1a1a" stroke="none" stroke-width="1" />
<line x1="457.6" y1="321.5" x2="447.8" y2="357.4" stroke="#1a1a1a" stroke-width="1.5" />
<path d="M446.2,363.2 L451.6,358.5 L443.9,356.4 Z" fill="#1a1a1a" stroke="none" stroke-width="1" />
<line x1="222.4" y1="476.0" x2="222.4" y2="492.2" stroke="#c99494" stroke-width="2.2" />
<path d="M207.0,475.0 L204.0,478.0 L196.0,478.5 L193.0,483.0" fill="none" stroke="#c99494" stroke-width="2.2" stroke-linecap="round" stroke-linejoin="round"/>
<path d="M237.8,475.0 L240.8,478.0 L248.8,478.5 L251.8,483.0" fill="none" stroke="#c99494" stroke-width="2.2" stroke-linecap="round" stroke-linejoin="round"/>
<ellipse cx="194.2" cy="414.3" rx="2.6" ry="2.2" fill="#c99494"/>
<ellipse cx="250.6" cy="414.3" rx="2.6" ry="2.2" fill="#c99494"/>
<path d="M222.4,394.3 C225.0,396.0 227.5,400.0 229.0,404.0 C231.0,407.0 233.0,410.0 234.0,413.0 L236.0,416.0 C240.0,417.0 245.0,416.0 249.0,413.0 L251.5,416.5 C248.0,420.0 243.0,422.0 239.5,424.5 C239.5,428.0 238.5,432.0 237.8,436.0 C239.5,442.0 242.5,448.0 243.3,456.0 C244.0,463.0 243.0,468.0 240.0,472.0 L244.0,476.0 L238.0,475.5 C234.0,478.0 228.0,479.0 222.4,479.0 C216.8,479.0 210.8,478.0 206.8,475.5 L200.8,476.0 L204.8,472.0 C201.8,468.0 200.8,463.0 201.5,456.0 C202.3,448.0 205.3,442.0 207.0,436.0 C206.3,432.0 205.3,428.0 205.3,424.5 C201.8,422.0 196.8,420.0 193.3,416.5 L195.8,413.0 C199.8,416.0 204.8,417.0 208.8,416.0 L210.8,413.0 C211.8,410.0 213.8,407.0 215.8,404.0 C217.3,400.0 219.8,396.0 222.4,394.3 Z" fill="#4b4544" stroke="none" stroke-width="1" />
<circle cx="210.2" cy="409.7" r="2.9" fill="#c39a98" />
<circle cx="234.6" cy="409.7" r="2.9" fill="#c39a98" />
<circle cx="228.5" cy="459.8" r="2.4" fill="#b03838" />
<line x1="235.5" y1="475.0" x2="237.8" y2="481.5" stroke="#3a9a8a" stroke-width="1.8" />
<line x1="237.8" y1="481.5" x2="244.7" y2="500.3" stroke="#c3e2f0" stroke-width="3.8" />
<line x1="237.8" y1="481.5" x2="244.7" y2="500.3" stroke="#8fbcd6" stroke-width="0.7" />
<line x1="332.4" y1="476.0" x2="332.4" y2="492.2" stroke="#c99494" stroke-width="2.2" />
<path d="M317.0,475.0 L314.0,478.0 L306.0,478.5 L303.0,483.0" fill="none" stroke="#c99494" stroke-width="2.2" stroke-linecap="round" stroke-linejoin="round"/>
<path d="M347.8,475.0 L350.8,478.0 L358.8,478.5 L361.8,483.0" fill="none" stroke="#c99494" stroke-width="2.2" stroke-linecap="round" stroke-linejoin="round"/>
<ellipse cx="304.2" cy="414.3" rx="2.6" ry="2.2" fill="#c99494"/>
<ellipse cx="360.6" cy="414.3" rx="2.6" ry="2.2" fill="#c99494"/>
<path d="M332.4,394.3 C335.0,396.0 337.5,400.0 339.0,404.0 C341.0,407.0 343.0,410.0 344.0,413.0 L346.0,416.0 C350.0,417.0 355.0,416.0 359.0,413.0 L361.5,416.5 C358.0,420.0 353.0,422.0 349.5,424.5 C349.5,428.0 348.5,432.0 347.8,436.0 C349.5,442.0 352.5,448.0 353.3,456.0 C354.0,463.0 353.0,468.0 350.0,472.0 L354.0,476.0 L348.0,475.5 C344.0,478.0 338.0,479.0 332.4,479.0 C326.8,479.0 320.8,478.0 316.8,475.5 L310.8,476.0 L314.8,472.0 C311.8,468.0 310.8,463.0 311.5,456.0 C312.3,448.0 315.3,442.0 317.0,436.0 C316.3,432.0 315.3,428.0 315.3,424.5 C311.8,422.0 306.8,420.0 303.3,416.5 L305.8,413.0 C309.8,416.0 314.8,417.0 318.8,416.0 L320.8,413.0 C321.8,410.0 323.8,407.0 325.8,404.0 C327.3,400.0 329.8,396.0 332.4,394.3 Z" fill="#4b4544" stroke="none" stroke-width="1" />
<circle cx="320.2" cy="409.7" r="2.9" fill="#c39a98" />
<circle cx="344.6" cy="409.7" r="2.9" fill="#c39a98" />
<circle cx="338.5" cy="459.8" r="2.4" fill="#b03838" />
<line x1="345.5" y1="475.0" x2="347.8" y2="481.5" stroke="#3a9a8a" stroke-width="1.8" />
<line x1="347.8" y1="481.5" x2="354.7" y2="500.3" stroke="#c3e2f0" stroke-width="3.8" />
<line x1="347.8" y1="481.5" x2="354.7" y2="500.3" stroke="#8fbcd6" stroke-width="0.7" />
<path d="M260.0,428.3 L269.0,428.3 L293.2,447.3 L269.0,466.3 L260.0,466.3 L284.2,447.3 Z" fill="#d6e7f8" stroke="#62a0dc" stroke-width="1.1" />
<path d="M365.2,428.3 L374.2,428.3 L397.5,447.3 L374.2,466.3 L365.2,466.3 L388.5,447.3 Z" fill="#d6e7f8" stroke="#62a0dc" stroke-width="1.1" />
<path d="M610.0,428.2 L619.0,428.2 L642.0,447.3 L619.0,466.4 L610.0,466.4 L633.0,447.3 Z" fill="#d6e7f8" stroke="#62a0dc" stroke-width="1.1" />
<path d="M626.5,428.2 L635.5,428.2 L658.5,447.3 L635.5,466.4 L626.5,466.4 L649.5,447.3 Z" fill="#d6e7f8" stroke="#62a0dc" stroke-width="1.1" />
<path d="M643.5,428.2 L652.5,428.2 L675.5,447.3 L652.5,466.4 L643.5,466.4 L666.5,447.3 Z" fill="#d6e7f8" stroke="#62a0dc" stroke-width="1.1" />
<text x="203.9" y="542.3" font-size="16.5" font-weight="700" text-anchor="start" fill="#000" textLength="42.1" lengthAdjust="spacingAndGlyphs" >Day 0</text>
<text x="301.3" y="542.3" font-size="16.5" font-weight="700" text-anchor="start" fill="#000" textLength="63.9" lengthAdjust="spacingAndGlyphs" >Day 7 - 8</text>
<text x="480.9" y="601.0" font-size="16.5" font-weight="700" text-anchor="start" fill="#000" textLength="81.6" lengthAdjust="spacingAndGlyphs" >Day 14 - 15</text>
<text x="760.6" y="439.1" font-size="16.5" font-weight="700" text-anchor="middle" fill="#000" textLength="124.6" lengthAdjust="spacingAndGlyphs" >Monitoring tumor</text>
<text x="760.6" y="461.9" font-size="16.5" font-weight="700" text-anchor="middle" fill="#000" textLength="167.4" lengthAdjust="spacingAndGlyphs" >appearance, growth and</text>
<text x="761.0" y="484.6" font-size="16.5" font-weight="700" text-anchor="middle" fill="#000" textLength="127.3" lengthAdjust="spacingAndGlyphs" >neurological status</text>
<ellipse cx="514.5" cy="499" rx="78" ry="73" fill="#fff" stroke="#8ea4d8" stroke-width="1.4"/>
<rect x="509.4" y="473.4" width="12.7" height="33.2" fill="#d6d6d6" stroke="#a8a8a8" stroke-width="0.6"/>
<rect x="510.9" y="465.4" width="9.7" height="8.0" fill="#c4c4c4" />
<ellipse cx="515.8" cy="465.4" rx="4.8" ry="1.8" fill="#d0d0d0"/>
<rect x="513.2" y="480.4" width="1.6" height="9.0" fill="#6a6a6a" />
<rect x="516.8" y="480.4" width="1.6" height="9.0" fill="#6a6a6a" />
<rect x="533.1" y="456.8" width="14.9" height="32.2" fill="#d6d6d6" stroke="#a8a8a8" stroke-width="0.6"/>
<rect x="534.9" y="448.8" width="11.3" height="8.0" fill="#c4c4c4" />
<ellipse cx="540.5" cy="448.8" rx="5.7" ry="1.8" fill="#d0d0d0"/>
<rect x="537.6" y="463.8" width="1.6" height="9.0" fill="#6a6a6a" />
<rect x="541.7" y="463.8" width="1.6" height="9.0" fill="#6a6a6a" />
<rect x="548.8" y="480.9" width="13.2" height="36.2" fill="#d6d6d6" stroke="#a8a8a8" stroke-width="0.6"/>
<rect x="550.4" y="472.9" width="10.0" height="8.0" fill="#c4c4c4" />
<ellipse cx="555.4" cy="472.9" rx="5.0" ry="1.8" fill="#d0d0d0"/>
<rect x="552.8" y="487.9" width="1.6" height="9.0" fill="#6a6a6a" />
<rect x="556.5" y="487.9" width="1.6" height="9.0" fill="#6a6a6a" />
<line x1="479.0" y1="494.3" x2="510.3" y2="498.8" stroke="#4a4a4a" stroke-width="3.4" />
<line x1="537.5" y1="504.4" x2="583.0" y2="511.2" stroke="#4a4a4a" stroke-width="3.4" />
<rect x="476.5" y="490.8" width="4.2" height="7.4" fill="#505050" />
<rect x="581.5" y="507.8" width="4.2" height="7.4" fill="#505050" />
<circle cx="509.7" cy="496.0" r="2.6" fill="#2a2a2a" />
<circle cx="550.5" cy="502.5" r="2.6" fill="#2a2a2a" />
<line x1="537.5" y1="492.6" x2="556.7" y2="467.2" stroke="#3c3c3c" stroke-width="3.6" stroke-linecap="round"/>
<path d="M538,492 C537,500 535,508 532,516 C529,526 524,535 517,542 C511,547 502,549 496,547.5 C491.5,544 491,536 493,528 C496,519 502,513 511,507 C519,501 529,496 538,492 Z" fill="#4b4544" stroke="none" stroke-width="1" />
<circle cx="518.5" cy="503.5" r="2.0" fill="#d29a96" />
<circle cx="534.5" cy="506.5" r="1.8" fill="#d29a96" />
<path d="M495.4,547.8 C496,556 500,559 512,557.5 C524,555.5 536,553 544.5,558.7" fill="none" stroke="#c07a74" stroke-width="1.6" />
<rect x="440.0" y="379.4" width="8.0" height="27.5" fill="#cfe6f3" stroke="#9ab" stroke-width="0.6"/>
<rect x="441.8" y="406.9" width="4.4" height="10.5" fill="#3a9a8a" />
<line x1="444.0" y1="417.0" x2="444.0" y2="436.0" stroke="#777" stroke-width="0.8" />
<circle cx="424.3" cy="437.6" r="13.0" fill="#a87472" />
<circle cx="424.3" cy="437.6" r="9.5" fill="#c49491" />
<circle cx="477.6" cy="436.8" r="13.0" fill="#a87472" />
<circle cx="477.6" cy="436.8" r="9.5" fill="#c49491" />
<path d="M448.5,433.6 C462,433 474,440 477,452 C480,464 478,476 470,484 C463,490 455,491 448.5,491 C442,491 434,490 427,484 C419,476 418,464 420,452 C423,440 435,433 448.5,433.6 Z" fill="#4b4544" stroke="none" stroke-width="1" />
<line x1="425.0" y1="477.0" x2="412.0" y2="472.0" stroke="#d4d4d4" stroke-width="0.6" />
<line x1="426.0" y1="480.0" x2="410.0" y2="482.0" stroke="#d4d4d4" stroke-width="0.6" />
<line x1="428.0" y1="484.0" x2="414.0" y2="492.0" stroke="#d4d4d4" stroke-width="0.6" />
<line x1="472.0" y1="477.0" x2="486.0" y2="472.0" stroke="#d4d4d4" stroke-width="0.6" />
<line x1="471.0" y1="480.0" x2="488.0" y2="482.0" stroke="#d4d4d4" stroke-width="0.6" />
<line x1="469.0" y1="484.0" x2="484.0" y2="492.0" stroke="#d4d4d4" stroke-width="0.6" />
<circle cx="443.7" cy="442.5" r="4.2" fill="#8a3b3b" opacity="0.5"/>
<circle cx="443.7" cy="442.5" r="3.0" fill="#c0303a" />
<circle cx="438.0" cy="461.9" r="2.4" fill="#111" />
<circle cx="461.5" cy="461.9" r="2.4" fill="#111" />
<ellipse cx="449.3" cy="483.5" rx="3.4" ry="2.4" fill="#d9a0a0"/>
<text x="0" y="0" font-size="36.19" font-weight="700" transform="translate(803.90 26.90) scale(0.825 1)">B</text>
<line x1="885.5" y1="77.3" x2="885.5" y2="325.0" stroke="#000" stroke-width="2.2" />
<line x1="878.5" y1="318.0" x2="1243.5" y2="318.0" stroke="#000" stroke-width="2.2" />
<line x1="878.5" y1="318.0" x2="885.5" y2="318.0" stroke="#000" stroke-width="2.2" />
<text x="873.6" y="324.5" font-size="18" font-weight="700" text-anchor="end" fill="#000" >0</text>
<line x1="878.5" y1="274.3" x2="885.5" y2="274.3" stroke="#000" stroke-width="2.2" />
<text x="873.6" y="280.8" font-size="18" font-weight="700" text-anchor="end" fill="#000" >20</text>
<line x1="878.5" y1="230.6" x2="885.5" y2="230.6" stroke="#000" stroke-width="2.2" />
<text x="873.6" y="237.1" font-size="18" font-weight="700" text-anchor="end" fill="#000" >40</text>
<line x1="878.5" y1="186.8" x2="885.5" y2="186.8" stroke="#000" stroke-width="2.2" />
<text x="873.6" y="193.3" font-size="18" font-weight="700" text-anchor="end" fill="#000" >60</text>
<line x1="878.5" y1="143.1" x2="885.5" y2="143.1" stroke="#000" stroke-width="2.2" />
<text x="873.6" y="149.6" font-size="18" font-weight="700" text-anchor="end" fill="#000" >80</text>
<line x1="878.5" y1="99.4" x2="885.5" y2="99.4" stroke="#000" stroke-width="2.2" />
<text x="873.6" y="105.9" font-size="18" font-weight="700" text-anchor="end" fill="#000" >100</text>
<line x1="885.5" y1="318.0" x2="885.5" y2="324.8" stroke="#000" stroke-width="2.2" />
<text x="885.5" y="345.6" font-size="18" font-weight="700" text-anchor="middle" fill="#000" >0</text>
<line x1="920.1" y1="318.0" x2="920.1" y2="324.8" stroke="#000" stroke-width="2.2" />
<text x="920.1" y="345.6" font-size="18" font-weight="700" text-anchor="middle" fill="#000" >3</text>
<line x1="954.8" y1="318.0" x2="954.8" y2="324.8" stroke="#000" stroke-width="2.2" />
<text x="954.8" y="345.6" font-size="18" font-weight="700" text-anchor="middle" fill="#000" >6</text>
<line x1="989.5" y1="318.0" x2="989.5" y2="324.8" stroke="#000" stroke-width="2.2" />
<text x="989.5" y="345.6" font-size="18" font-weight="700" text-anchor="middle" fill="#000" >9</text>
<line x1="1024.1" y1="318.0" x2="1024.1" y2="324.8" stroke="#000" stroke-width="2.2" />
<text x="1024.1" y="345.6" font-size="18" font-weight="700" text-anchor="middle" fill="#000" >12</text>
<line x1="1058.8" y1="318.0" x2="1058.8" y2="324.8" stroke="#000" stroke-width="2.2" />
<text x="1058.8" y="345.6" font-size="18" font-weight="700" text-anchor="middle" fill="#000" >15</text>
<line x1="1093.4" y1="318.0" x2="1093.4" y2="324.8" stroke="#000" stroke-width="2.2" />
<text x="1093.4" y="345.6" font-size="18" font-weight="700" text-anchor="middle" fill="#000" >18</text>
<line x1="1128.0" y1="318.0" x2="1128.0" y2="324.8" stroke="#000" stroke-width="2.2" />
<text x="1128.0" y="345.6" font-size="18" font-weight="700" text-anchor="middle" fill="#000" >21</text>
<line x1="1162.7" y1="318.0" x2="1162.7" y2="324.8" stroke="#000" stroke-width="2.2" />
<text x="1162.7" y="345.6" font-size="18" font-weight="700" text-anchor="middle" fill="#000" >24</text>
<line x1="1197.3" y1="318.0" x2="1197.3" y2="324.8" stroke="#000" stroke-width="2.2" />
<text x="1197.3" y="345.6" font-size="18" font-weight="700" text-anchor="middle" fill="#000" >27</text>
<line x1="1232.0" y1="318.0" x2="1232.0" y2="324.8" stroke="#000" stroke-width="2.2" />
<text x="1232.0" y="345.6" font-size="18" font-weight="700" text-anchor="middle" fill="#000" >30</text>
<text x="1064.5" y="368.2" font-size="18.5" font-weight="700" text-anchor="middle" fill="#000" textLength="293.0" lengthAdjust="spacingAndGlyphs" >Days after intracranial challenge</text>
<text x="1064.5" y="391.6" font-size="18.5" font-weight="700" text-anchor="middle" fill="#000" textLength="143.7" lengthAdjust="spacingAndGlyphs" >with viable cells</text>
<text x="834.0" y="186.5" font-size="20" font-weight="700" text-anchor="middle" fill="#000" textLength="181.5" lengthAdjust="spacingAndGlyphs" transform="rotate(-90 834.0 186.5)" >Percentage survival</text>
<path d="M885.5,99.4 H1058.8 V208.7 H1081.8 V281.5 H1093.4 V318.0" fill="none" stroke="#3a008a" stroke-width="2.2" stroke-linejoin="miter"/>
<path d="M885.5,99.4 H1058.8 V135.9 H1070.3 V172.2 H1081.8 V245.2 H1093.4 V318.0" fill="none" stroke="#b4b4b4" stroke-width="2.2" stroke-linejoin="miter"/>
<path d="M885.5,99.4 H1024.1 V135.9 H1070.3 V172.2 H1093.4 V208.7 H1116.5 V281.5 H1139.6 V318.0" fill="none" stroke="#3f7f00" stroke-width="2.2" stroke-linejoin="miter"/>
<path d="M885.5,99.4 H1070.3 V130.7 H1093.4 V224.2 H1139.6 V255.5 H1162.7 V318.0" fill="none" stroke="#ff0000" stroke-width="2.2" stroke-linejoin="miter"/>
<line x1="1058.8" y1="135.9" x2="1058.8" y2="130.9" stroke="#000" stroke-width="2.2" />
<line x1="1070.3" y1="172.2" x2="1070.3" y2="167.2" stroke="#000" stroke-width="2.2" />
<line x1="1081.8" y1="245.2" x2="1081.8" y2="240.2" stroke="#000" stroke-width="2.2" />
<line x1="1093.4" y1="318.0" x2="1093.4" y2="313.0" stroke="#000" stroke-width="2.2" />
<line x1="1058.8" y1="208.7" x2="1058.8" y2="203.7" stroke="#000" stroke-width="2.2" />
<line x1="1081.8" y1="281.5" x2="1081.8" y2="276.5" stroke="#000" stroke-width="2.2" />
<line x1="1093.4" y1="318.0" x2="1093.4" y2="313.0" stroke="#000" stroke-width="2.2" />
<line x1="1024.1" y1="135.9" x2="1024.1" y2="130.9" stroke="#000" stroke-width="2.2" />
<line x1="1070.3" y1="172.2" x2="1070.3" y2="167.2" stroke="#000" stroke-width="2.2" />
<line x1="1093.4" y1="208.7" x2="1093.4" y2="203.7" stroke="#000" stroke-width="2.2" />
<line x1="1116.5" y1="281.5" x2="1116.5" y2="276.5" stroke="#000" stroke-width="2.2" />
<line x1="1139.6" y1="318.0" x2="1139.6" y2="313.0" stroke="#000" stroke-width="2.2" />
<line x1="1070.3" y1="130.7" x2="1070.3" y2="125.7" stroke="#000" stroke-width="2.2" />
<line x1="1093.4" y1="224.2" x2="1093.4" y2="219.2" stroke="#000" stroke-width="2.2" />
<line x1="1139.6" y1="255.5" x2="1139.6" y2="250.5" stroke="#000" stroke-width="2.2" />
<line x1="1162.7" y1="318.0" x2="1162.7" y2="313.0" stroke="#000" stroke-width="2.2" />
<line x1="1238.4" y1="93.5" x2="1238.4" y2="195.4" stroke="#b0b0b0" stroke-width="1.2" />
<line x1="1238.4" y1="93.5" x2="1249.5" y2="93.5" stroke="#b0b0b0" stroke-width="1.2" />
<line x1="1238.4" y1="195.4" x2="1249.5" y2="195.4" stroke="#b0b0b0" stroke-width="1.2" />
<line x1="1270.3" y1="94.4" x2="1270.3" y2="162.3" stroke="#b0b0b0" stroke-width="1.2" />
<line x1="1270.3" y1="94.4" x2="1282.8" y2="94.4" stroke="#b0b0b0" stroke-width="1.2" />
<line x1="1270.3" y1="162.3" x2="1282.8" y2="162.3" stroke="#b0b0b0" stroke-width="1.2" />
<text x="1221.9" y="151.1" font-size="19.9" font-weight="400" text-anchor="start" fill="#000" >*</text>
<text x="1254.6" y="139.8" font-size="19.9" font-weight="400" text-anchor="start" fill="#000" >*</text>
<line x1="1293.1" y1="94.2" x2="1319.8" y2="94.2" stroke="#ff0000" stroke-width="2.4" />
<line x1="1306.5" y1="94.2" x2="1306.5" y2="89.2" stroke="#000" stroke-width="2" />
<text x="1334.7" y="101.0" font-size="19" font-weight="400" text-anchor="start" fill="#000" >DC+PS-PDT (n=7)</text>
<line x1="1293.1" y1="127.4" x2="1319.8" y2="127.4" stroke="#3f7f00" stroke-width="2.4" />
<line x1="1306.5" y1="127.4" x2="1306.5" y2="122.4" stroke="#000" stroke-width="2" />
<text x="1334.7" y="134.2" font-size="19" font-weight="400" text-anchor="start" fill="#000" >DC+MTX (n=6)</text>
<line x1="1293.1" y1="163.1" x2="1319.8" y2="163.1" stroke="#3a008a" stroke-width="2.4" />
<line x1="1306.5" y1="163.1" x2="1306.5" y2="158.1" stroke="#000" stroke-width="2" />
<text x="1334.7" y="169.9" font-size="19" font-weight="400" text-anchor="start" fill="#000" >DC+FT (n=6)</text>
<line x1="1293.1" y1="196.4" x2="1319.8" y2="196.4" stroke="#b4b4b4" stroke-width="2.4" />
<line x1="1306.5" y1="196.4" x2="1306.5" y2="191.4" stroke="#000" stroke-width="2" />
<text x="1334.7" y="203.2" font-size="19" font-weight="400" text-anchor="start" fill="#000" >PBS (n=7)</text>
<text x="0" y="0" font-size="35.88" font-weight="700" transform="translate(4.91 651.15) scale(0.810 1)">C</text>
<line x1="108.2" y1="716.9" x2="108.2" y2="937.6" stroke="#000" stroke-width="2.4" />
<line x1="102.5" y1="936.6" x2="428.0" y2="936.6" stroke="#000" stroke-width="2.4" />
<line x1="102.6" y1="936.6" x2="108.2" y2="936.6" stroke="#000" stroke-width="2.4" />
<text x="99.0" y="942.8" font-size="17.5" font-weight="700" text-anchor="end" fill="#000" textLength="21.4" lengthAdjust="spacingAndGlyphs" >0.0</text>
<line x1="102.6" y1="863.6" x2="108.2" y2="863.6" stroke="#000" stroke-width="2.4" />
<text x="99.0" y="869.8" font-size="17.5" font-weight="700" text-anchor="end" fill="#000" textLength="21.4" lengthAdjust="spacingAndGlyphs" >0.5</text>
<line x1="102.6" y1="790.6" x2="108.2" y2="790.6" stroke="#000" stroke-width="2.4" />
<text x="99.0" y="796.8" font-size="17.5" font-weight="700" text-anchor="end" fill="#000" textLength="21.4" lengthAdjust="spacingAndGlyphs" >1.0</text>
<line x1="102.6" y1="717.6" x2="108.2" y2="717.6" stroke="#000" stroke-width="2.4" />
<text x="99.0" y="723.8" font-size="17.5" font-weight="700" text-anchor="end" fill="#000" textLength="21.4" lengthAdjust="spacingAndGlyphs" >1.5</text>
<line x1="149.3" y1="737.6" x2="149.3" y2="734.5" stroke="#000" stroke-width="2.4" />
<line x1="137.0" y1="734.5" x2="162.5" y2="734.5" stroke="#000" stroke-width="2.4" />
<rect x="122.7" y="738.7" width="53.3" height="197.9" fill="#a3a2a8" stroke="#111" stroke-width="2.2"/>
<line x1="149.3" y1="936.6" x2="149.3" y2="942.6" stroke="#000" stroke-width="2.4" />
<line x1="231.8" y1="741.7" x2="231.8" y2="732.5" stroke="#000" stroke-width="2.4" />
<line x1="219.4" y1="732.5" x2="245.0" y2="732.5" stroke="#000" stroke-width="2.4" />
<rect x="205.1" y="742.8" width="53.3" height="193.8" fill="#000080" stroke="#111" stroke-width="2.2"/>
<line x1="231.8" y1="936.6" x2="231.8" y2="942.6" stroke="#000" stroke-width="2.4" />
<line x1="313.7" y1="787.2" x2="313.7" y2="769.9" stroke="#000" stroke-width="2.4" />
<line x1="301.0" y1="769.9" x2="326.8" y2="769.9" stroke="#000" stroke-width="2.4" />
<rect x="287.5" y="788.3" width="52.4" height="148.3" fill="#ff0000" stroke="#111" stroke-width="2.2"/>
<line x1="313.7" y1="936.6" x2="313.7" y2="942.6" stroke="#000" stroke-width="2.4" />
<line x1="396.2" y1="768.0" x2="396.2" y2="763.4" stroke="#000" stroke-width="2.4" />
<line x1="383.0" y1="763.4" x2="409.0" y2="763.4" stroke="#000" stroke-width="2.4" />
<rect x="370.2" y="769.1" width="52.1" height="167.5" fill="#007c00" stroke="#111" stroke-width="2.2"/>
<line x1="396.2" y1="936.6" x2="396.2" y2="942.6" stroke="#000" stroke-width="2.4" />
<text x="310.4" y="758.5" font-size="18.2" font-weight="400" text-anchor="start" fill="#000" >*</text>
<text x="56.3" y="826" font-size="23" font-weight="700" text-anchor="middle" transform="rotate(-90 56.3 826)" textLength="286.7" lengthAdjust="spacingAndGlyphs">Tumor volume (mm<tspan font-size="16" dy="-9">3</tspan><tspan dy="9">)±S.E.M.</tspan></text>
<text x="154.2" y="956.4" font-size="16.8" font-weight="700" text-anchor="end" fill="#000" transform="rotate(-45 154.2 956.4)" >PBS (n=7)</text>
<text x="236.1" y="956.4" font-size="16.8" font-weight="700" text-anchor="end" fill="#000" transform="rotate(-45 236.1 956.4)" >F/T (n=6)</text>
<text x="318.2" y="956.4" font-size="16.8" font-weight="700" text-anchor="end" fill="#000" transform="rotate(-45 318.2 956.4)" >PS-PDT (n=7)</text>
<text x="400.3" y="956.4" font-size="16.8" font-weight="700" text-anchor="end" fill="#000" transform="rotate(-45 400.3 956.4)" >MTX (n=6)</text>
<text x="0" y="0" font-size="35.76" font-weight="700" transform="translate(4.41 1085.90) scale(0.958 1)">D</text>
<text x="308.9" y="1101.1" font-size="25" font-weight="700" text-anchor="middle" fill="#000" textLength="51.8" lengthAdjust="spacingAndGlyphs" >PBS</text>
<rect x="116.1" y="1350.3" width="37.2" height="53.5" fill="#fdbf83" />
<rect x="116.1" y="1134.8" width="37.2" height="215.5" fill="#c9f6e4" />
<rect x="116.1" y="1349.4" width="37.2" height="1.8" fill="#ffffff" />
<line x1="134.7" y1="1403.8" x2="134.7" y2="1408.3" stroke="#000" stroke-width="3" />
<rect x="174.4" y="1134.8" width="37.2" height="269.0" fill="#c9f6e4" />
<line x1="193.0" y1="1403.8" x2="193.0" y2="1408.3" stroke="#000" stroke-width="3" />
<rect x="232.7" y="1134.8" width="37.2" height="269.0" fill="#c9f6e4" />
<line x1="251.3" y1="1403.8" x2="251.3" y2="1408.3" stroke="#000" stroke-width="3" />
<rect x="291.0" y="1329.0" width="37.2" height="74.8" fill="#c9f6e4" />
<rect x="291.0" y="1134.8" width="37.2" height="194.2" fill="#43efac" />
<rect x="291.0" y="1328.1" width="37.2" height="1.8" fill="#ffffff" />
<line x1="309.6" y1="1403.8" x2="309.6" y2="1408.3" stroke="#000" stroke-width="3" />
<rect x="349.2" y="1366.4" width="37.2" height="37.4" fill="#c9f6e4" />
<rect x="349.2" y="1134.8" width="37.2" height="231.6" fill="#43efac" />
<rect x="349.2" y="1365.5" width="37.2" height="1.8" fill="#ffffff" />
<line x1="367.8" y1="1403.8" x2="367.8" y2="1408.3" stroke="#000" stroke-width="3" />
<rect x="407.5" y="1366.4" width="37.2" height="37.4" fill="#0a9762" />
<rect x="407.5" y="1134.8" width="37.2" height="231.6" fill="#066a45" />
<rect x="407.5" y="1365.5" width="37.2" height="1.8" fill="#ffffff" />
<line x1="426.1" y1="1403.8" x2="426.1" y2="1408.3" stroke="#000" stroke-width="3" />
<rect x="465.8" y="1134.8" width="37.2" height="269.0" fill="#066a45" />
<line x1="484.4" y1="1403.8" x2="484.4" y2="1408.3" stroke="#000" stroke-width="3" />
<line x1="106.2" y1="1129.8" x2="106.2" y2="1405.6" stroke="#000" stroke-width="3.4" />
<line x1="104.5" y1="1403.8" x2="514.2" y2="1403.8" stroke="#000" stroke-width="3.6" />
<line x1="102.2" y1="1403.8" x2="106.2" y2="1403.8" stroke="#000" stroke-width="3" />
<text x="100.7" y="1411.2" font-size="21" font-weight="700" text-anchor="end" fill="#000" >0</text>
<line x1="102.2" y1="1350.0" x2="106.2" y2="1350.0" stroke="#000" stroke-width="3" />
<text x="100.7" y="1357.4" font-size="21" font-weight="700" text-anchor="end" fill="#000" >20</text>
<line x1="102.2" y1="1296.2" x2="106.2" y2="1296.2" stroke="#000" stroke-width="3" />
<text x="100.7" y="1303.6" font-size="21" font-weight="700" text-anchor="end" fill="#000" >40</text>
<line x1="102.2" y1="1242.4" x2="106.2" y2="1242.4" stroke="#000" stroke-width="3" />
<text x="100.7" y="1249.8" font-size="21" font-weight="700" text-anchor="end" fill="#000" >60</text>
<line x1="102.2" y1="1188.6" x2="106.2" y2="1188.6" stroke="#000" stroke-width="3" />
<text x="100.7" y="1196.0" font-size="21" font-weight="700" text-anchor="end" fill="#000" >80</text>
<line x1="102.2" y1="1134.8" x2="106.2" y2="1134.8" stroke="#000" stroke-width="3" />
<text x="100.7" y="1142.2" font-size="21" font-weight="700" text-anchor="end" fill="#000" >100</text>
<text x="139.2" y="1423.8" font-size="20" font-weight="700" text-anchor="end" fill="#000" transform="rotate(-45 139.2 1423.8)" >-1</text>
<text x="197.5" y="1423.8" font-size="20" font-weight="700" text-anchor="end" fill="#000" transform="rotate(-45 197.5 1423.8)" >1</text>
<text x="255.8" y="1423.8" font-size="20" font-weight="700" text-anchor="end" fill="#000" transform="rotate(-45 255.8 1423.8)" >3</text>
<text x="314.1" y="1423.8" font-size="20" font-weight="700" text-anchor="end" fill="#000" transform="rotate(-45 314.1 1423.8)" >8</text>
<text x="372.3" y="1423.8" font-size="20" font-weight="700" text-anchor="end" fill="#000" transform="rotate(-45 372.3 1423.8)" >11</text>
<text x="430.6" y="1423.8" font-size="20" font-weight="700" text-anchor="end" fill="#000" transform="rotate(-45 430.6 1423.8)" >18</text>
<text x="488.9" y="1423.8" font-size="20" font-weight="700" text-anchor="end" fill="#000" transform="rotate(-45 488.9 1423.8)" >22</text>
<text x="309.8" y="1493.0" font-size="22" font-weight="700" text-anchor="middle" fill="#000" textLength="339.6" lengthAdjust="spacingAndGlyphs" >Days after intracranial challenge</text>
<g transform="rotate(-90 44.5 1261.0)"><text x="44.5" y="1246.5" font-size="23.7" text-anchor="middle" stroke="#000" stroke-width="0.75" textLength="180.4" lengthAdjust="spacingAndGlyphs">Grade of severity</text><text x="44.5" y="1274.0" font-size="23.7" text-anchor="middle" stroke="#000" stroke-width="0.75" textLength="228.4" lengthAdjust="spacingAndGlyphs">of neurological deficit</text></g>
<text x="873.9" y="1101.9" font-size="25" font-weight="700" text-anchor="middle" fill="#000" textLength="107.3" lengthAdjust="spacingAndGlyphs" >DC + F/T</text>
<rect x="679.0" y="1363.5" width="37.2" height="42.9" fill="#fdbf83" />
<rect x="679.0" y="1137.5" width="37.2" height="226.0" fill="#c9f6e4" />
<rect x="679.0" y="1362.6" width="37.2" height="1.8" fill="#ffffff" />
<line x1="697.6" y1="1406.4" x2="697.6" y2="1410.9" stroke="#000" stroke-width="3" />
<rect x="737.7" y="1137.5" width="37.2" height="268.9" fill="#c9f6e4" />
<line x1="756.3" y1="1406.4" x2="756.3" y2="1410.9" stroke="#000" stroke-width="3" />
<rect x="796.4" y="1137.5" width="37.2" height="268.9" fill="#c9f6e4" />
<line x1="815.0" y1="1406.4" x2="815.0" y2="1410.9" stroke="#000" stroke-width="3" />
<rect x="855.1" y="1137.5" width="37.2" height="268.9" fill="#c9f6e4" />
<line x1="873.8" y1="1406.4" x2="873.8" y2="1410.9" stroke="#000" stroke-width="3" />
<rect x="913.9" y="1363.5" width="37.2" height="42.9" fill="#c9f6e4" />
<rect x="913.9" y="1137.5" width="37.2" height="226.0" fill="#43efac" />
<rect x="913.9" y="1362.6" width="37.2" height="1.8" fill="#ffffff" />
<line x1="932.5" y1="1406.4" x2="932.5" y2="1410.9" stroke="#000" stroke-width="3" />
<rect x="972.6" y="1363.5" width="37.2" height="42.9" fill="#0a9762" />
<rect x="972.6" y="1137.5" width="37.2" height="226.0" fill="#066a45" />
<rect x="972.6" y="1362.6" width="37.2" height="1.8" fill="#ffffff" />
<line x1="991.2" y1="1406.4" x2="991.2" y2="1410.9" stroke="#000" stroke-width="3" />
<rect x="1031.3" y="1137.5" width="37.2" height="268.9" fill="#066a45" />
<line x1="1049.9" y1="1406.4" x2="1049.9" y2="1410.9" stroke="#000" stroke-width="3" />
<line x1="667.3" y1="1132.5" x2="667.3" y2="1408.2" stroke="#000" stroke-width="3.4" />
<line x1="665.6" y1="1406.4" x2="1078.6" y2="1406.4" stroke="#000" stroke-width="3.6" />
<line x1="663.3" y1="1406.4" x2="667.3" y2="1406.4" stroke="#000" stroke-width="3" />
<text x="661.8" y="1413.8" font-size="21" font-weight="700" text-anchor="end" fill="#000" >0</text>
<line x1="663.3" y1="1352.6" x2="667.3" y2="1352.6" stroke="#000" stroke-width="3" />
<text x="661.8" y="1360.0" font-size="21" font-weight="700" text-anchor="end" fill="#000" >20</text>
<line x1="663.3" y1="1298.8" x2="667.3" y2="1298.8" stroke="#000" stroke-width="3" />
<text x="661.8" y="1306.2" font-size="21" font-weight="700" text-anchor="end" fill="#000" >40</text>
<line x1="663.3" y1="1245.1" x2="667.3" y2="1245.1" stroke="#000" stroke-width="3" />
<text x="661.8" y="1252.5" font-size="21" font-weight="700" text-anchor="end" fill="#000" >60</text>
<line x1="663.3" y1="1191.3" x2="667.3" y2="1191.3" stroke="#000" stroke-width="3" />
<text x="661.8" y="1198.7" font-size="21" font-weight="700" text-anchor="end" fill="#000" >80</text>
<line x1="663.3" y1="1137.5" x2="667.3" y2="1137.5" stroke="#000" stroke-width="3" />
<text x="661.8" y="1144.9" font-size="21" font-weight="700" text-anchor="end" fill="#000" >100</text>
<text x="702.1" y="1426.4" font-size="20" font-weight="700" text-anchor="end" fill="#000" transform="rotate(-45 702.1 1426.4)" >-1</text>
<text x="760.8" y="1426.4" font-size="20" font-weight="700" text-anchor="end" fill="#000" transform="rotate(-45 760.8 1426.4)" >1</text>
<text x="819.5" y="1426.4" font-size="20" font-weight="700" text-anchor="end" fill="#000" transform="rotate(-45 819.5 1426.4)" >3</text>
<text x="878.2" y="1426.4" font-size="20" font-weight="700" text-anchor="end" fill="#000" transform="rotate(-45 878.2 1426.4)" >8</text>
<text x="937.0" y="1426.4" font-size="20" font-weight="700" text-anchor="end" fill="#000" transform="rotate(-45 937.0 1426.4)" >11</text>
<text x="995.7" y="1426.4" font-size="20" font-weight="700" text-anchor="end" fill="#000" transform="rotate(-45 995.7 1426.4)" >18</text>
<text x="1054.4" y="1426.4" font-size="20" font-weight="700" text-anchor="end" fill="#000" transform="rotate(-45 1054.4 1426.4)" >22</text>
<text x="873.8" y="1496.7" font-size="22" font-weight="700" text-anchor="middle" fill="#000" textLength="343.9" lengthAdjust="spacingAndGlyphs" >Days after intracranial challenge</text>
<g transform="rotate(-90 605.5 1264.0)"><text x="605.5" y="1249.5" font-size="23.7" text-anchor="middle" stroke="#000" stroke-width="0.75" textLength="180.4" lengthAdjust="spacingAndGlyphs">Grade of severity</text><text x="605.5" y="1277.0" font-size="23.7" text-anchor="middle" stroke="#000" stroke-width="0.75" textLength="228.4" lengthAdjust="spacingAndGlyphs">of neurological deficit</text></g>
<text x="312.9" y="1583.7" font-size="25" font-weight="700" text-anchor="middle" fill="#000" textLength="163.8" lengthAdjust="spacingAndGlyphs" >DC + PS-PDT</text>
<rect x="117.2" y="1852.0" width="37.2" height="37.4" fill="#fdbf83" />
<rect x="117.2" y="1618.3" width="37.2" height="233.7" fill="#c9f6e4" />
<rect x="117.2" y="1851.1" width="37.2" height="1.8" fill="#ffffff" />
<line x1="135.8" y1="1889.4" x2="135.8" y2="1893.9" stroke="#000" stroke-width="3" />
<rect x="176.0" y="1618.3" width="37.2" height="271.1" fill="#c9f6e4" />
<line x1="194.6" y1="1889.4" x2="194.6" y2="1893.9" stroke="#000" stroke-width="3" />
<rect x="234.9" y="1618.3" width="37.2" height="271.1" fill="#c9f6e4" />
<line x1="253.5" y1="1889.4" x2="253.5" y2="1893.9" stroke="#000" stroke-width="3" />
<rect x="293.7" y="1618.3" width="37.2" height="271.1" fill="#c9f6e4" />
<line x1="312.3" y1="1889.4" x2="312.3" y2="1893.9" stroke="#000" stroke-width="3" />
<rect x="352.5" y="1618.3" width="37.2" height="271.1" fill="#c9f6e4" />
<line x1="371.1" y1="1889.4" x2="371.1" y2="1893.9" stroke="#000" stroke-width="3" />
<rect x="411.4" y="1655.7" width="37.2" height="233.7" fill="#43efac" />
<rect x="411.4" y="1618.3" width="37.2" height="37.4" fill="#066a45" />
<rect x="411.4" y="1654.8" width="37.2" height="1.8" fill="#ffffff" />
<line x1="430.0" y1="1889.4" x2="430.0" y2="1893.9" stroke="#000" stroke-width="3" />
<rect x="470.2" y="1775.5" width="37.2" height="113.9" fill="#43efac" />
<rect x="470.2" y="1618.3" width="37.2" height="157.2" fill="#066a45" />
<rect x="470.2" y="1774.6" width="37.2" height="1.8" fill="#ffffff" />
<line x1="488.8" y1="1889.4" x2="488.8" y2="1893.9" stroke="#000" stroke-width="3" />
<line x1="107.3" y1="1613.3" x2="107.3" y2="1891.2" stroke="#000" stroke-width="3.4" />
<line x1="105.6" y1="1889.4" x2="520.4" y2="1889.4" stroke="#000" stroke-width="3.6" />
<line x1="103.3" y1="1889.4" x2="107.3" y2="1889.4" stroke="#000" stroke-width="3" />
<text x="101.8" y="1896.8" font-size="21" font-weight="700" text-anchor="end" fill="#000" >0</text>
<line x1="103.3" y1="1835.2" x2="107.3" y2="1835.2" stroke="#000" stroke-width="3" />
<text x="101.8" y="1842.6" font-size="21" font-weight="700" text-anchor="end" fill="#000" >20</text>
<line x1="103.3" y1="1781.0" x2="107.3" y2="1781.0" stroke="#000" stroke-width="3" />
<text x="101.8" y="1788.4" font-size="21" font-weight="700" text-anchor="end" fill="#000" >40</text>
<line x1="103.3" y1="1726.7" x2="107.3" y2="1726.7" stroke="#000" stroke-width="3" />
<text x="101.8" y="1734.1" font-size="21" font-weight="700" text-anchor="end" fill="#000" >60</text>
<line x1="103.3" y1="1672.5" x2="107.3" y2="1672.5" stroke="#000" stroke-width="3" />
<text x="101.8" y="1679.9" font-size="21" font-weight="700" text-anchor="end" fill="#000" >80</text>
<line x1="103.3" y1="1618.3" x2="107.3" y2="1618.3" stroke="#000" stroke-width="3" />
<text x="101.8" y="1625.7" font-size="21" font-weight="700" text-anchor="end" fill="#000" >100</text>
<text x="140.3" y="1909.4" font-size="20" font-weight="700" text-anchor="end" fill="#000" transform="rotate(-45 140.3 1909.4)" >-1</text>
<text x="199.1" y="1909.4" font-size="20" font-weight="700" text-anchor="end" fill="#000" transform="rotate(-45 199.1 1909.4)" >1</text>
<text x="258.0" y="1909.4" font-size="20" font-weight="700" text-anchor="end" fill="#000" transform="rotate(-45 258.0 1909.4)" >3</text>
<text x="316.8" y="1909.4" font-size="20" font-weight="700" text-anchor="end" fill="#000" transform="rotate(-45 316.8 1909.4)" >8</text>
<text x="375.6" y="1909.4" font-size="20" font-weight="700" text-anchor="end" fill="#000" transform="rotate(-45 375.6 1909.4)" >11</text>
<text x="434.5" y="1909.4" font-size="20" font-weight="700" text-anchor="end" fill="#000" transform="rotate(-45 434.5 1909.4)" >18</text>
<text x="493.3" y="1909.4" font-size="20" font-weight="700" text-anchor="end" fill="#000" transform="rotate(-45 493.3 1909.4)" >22</text>
<text x="312.9" y="1979.2" font-size="22" font-weight="700" text-anchor="middle" fill="#000" textLength="343.5" lengthAdjust="spacingAndGlyphs" >Days after intracranial challenge</text>
<g transform="rotate(-90 45.5 1746.0)"><text x="45.5" y="1731.5" font-size="23.7" text-anchor="middle" stroke="#000" stroke-width="0.75" textLength="180.4" lengthAdjust="spacingAndGlyphs">Grade of severity</text><text x="45.5" y="1759.0" font-size="23.7" text-anchor="middle" stroke="#000" stroke-width="0.75" textLength="228.4" lengthAdjust="spacingAndGlyphs">of neurological deficit</text></g>
<text x="873.8" y="1583.7" font-size="25" font-weight="700" text-anchor="middle" fill="#000" textLength="121.9" lengthAdjust="spacingAndGlyphs" >DC + MTX</text>
<rect x="679.3" y="1845.6" width="37.2" height="43.0" fill="#fdbf83" />
<rect x="679.3" y="1618.3" width="37.2" height="227.3" fill="#c9f6e4" />
<rect x="679.3" y="1844.7" width="37.2" height="1.8" fill="#ffffff" />
<line x1="697.9" y1="1888.6" x2="697.9" y2="1893.1" stroke="#000" stroke-width="3" />
<rect x="738.0" y="1618.3" width="37.2" height="270.3" fill="#c9f6e4" />
<line x1="756.6" y1="1888.6" x2="756.6" y2="1893.1" stroke="#000" stroke-width="3" />
<rect x="796.7" y="1618.3" width="37.2" height="270.3" fill="#c9f6e4" />
<line x1="815.3" y1="1888.6" x2="815.3" y2="1893.1" stroke="#000" stroke-width="3" />
<rect x="855.4" y="1618.3" width="37.2" height="270.3" fill="#c9f6e4" />
<line x1="874.0" y1="1888.6" x2="874.0" y2="1893.1" stroke="#000" stroke-width="3" />
<rect x="914.1" y="1659.4" width="37.2" height="229.2" fill="#c9f6e4" />
<rect x="914.1" y="1618.3" width="37.2" height="41.1" fill="#43efac" />
<rect x="914.1" y="1658.5" width="37.2" height="1.8" fill="#ffffff" />
<line x1="932.7" y1="1888.6" x2="932.7" y2="1893.1" stroke="#000" stroke-width="3" />
<rect x="972.8" y="1845.9" width="37.2" height="42.7" fill="#c9f6e4" />
<rect x="972.8" y="1704.8" width="37.2" height="141.1" fill="#43efac" />
<rect x="972.8" y="1845.0" width="37.2" height="1.8" fill="#ffffff" />
<rect x="972.8" y="1618.3" width="37.2" height="86.5" fill="#066a45" />
<rect x="972.8" y="1703.9" width="37.2" height="1.8" fill="#ffffff" />
<line x1="991.4" y1="1888.6" x2="991.4" y2="1893.1" stroke="#000" stroke-width="3" />
<rect x="1031.5" y="1845.9" width="37.2" height="42.7" fill="#43efac" />
<rect x="1031.5" y="1618.3" width="37.2" height="227.6" fill="#066a45" />
<rect x="1031.5" y="1845.0" width="37.2" height="1.8" fill="#ffffff" />
<line x1="1050.1" y1="1888.6" x2="1050.1" y2="1893.1" stroke="#000" stroke-width="3" />
<line x1="668.1" y1="1613.3" x2="668.1" y2="1890.4" stroke="#000" stroke-width="3.4" />
<line x1="666.4" y1="1888.6" x2="1081.0" y2="1888.6" stroke="#000" stroke-width="3.6" />
<line x1="664.1" y1="1888.6" x2="668.1" y2="1888.6" stroke="#000" stroke-width="3" />
<text x="662.6" y="1896.0" font-size="21" font-weight="700" text-anchor="end" fill="#000" >0</text>
<line x1="664.1" y1="1834.5" x2="668.1" y2="1834.5" stroke="#000" stroke-width="3" />
<text x="662.6" y="1841.9" font-size="21" font-weight="700" text-anchor="end" fill="#000" >20</text>
<line x1="664.1" y1="1780.5" x2="668.1" y2="1780.5" stroke="#000" stroke-width="3" />
<text x="662.6" y="1787.9" font-size="21" font-weight="700" text-anchor="end" fill="#000" >40</text>
<line x1="664.1" y1="1726.4" x2="668.1" y2="1726.4" stroke="#000" stroke-width="3" />
<text x="662.6" y="1733.8" font-size="21" font-weight="700" text-anchor="end" fill="#000" >60</text>
<line x1="664.1" y1="1672.4" x2="668.1" y2="1672.4" stroke="#000" stroke-width="3" />
<text x="662.6" y="1679.8" font-size="21" font-weight="700" text-anchor="end" fill="#000" >80</text>
<line x1="664.1" y1="1618.3" x2="668.1" y2="1618.3" stroke="#000" stroke-width="3" />
<text x="662.6" y="1625.7" font-size="21" font-weight="700" text-anchor="end" fill="#000" >100</text>
<text x="702.4" y="1908.6" font-size="20" font-weight="700" text-anchor="end" fill="#000" transform="rotate(-45 702.4 1908.6)" >-1</text>
<text x="761.1" y="1908.6" font-size="20" font-weight="700" text-anchor="end" fill="#000" transform="rotate(-45 761.1 1908.6)" >1</text>
<text x="819.8" y="1908.6" font-size="20" font-weight="700" text-anchor="end" fill="#000" transform="rotate(-45 819.8 1908.6)" >3</text>
<text x="878.5" y="1908.6" font-size="20" font-weight="700" text-anchor="end" fill="#000" transform="rotate(-45 878.5 1908.6)" >8</text>
<text x="937.2" y="1908.6" font-size="20" font-weight="700" text-anchor="end" fill="#000" transform="rotate(-45 937.2 1908.6)" >11</text>
<text x="995.9" y="1908.6" font-size="20" font-weight="700" text-anchor="end" fill="#000" transform="rotate(-45 995.9 1908.6)" >18</text>
<text x="1054.6" y="1908.6" font-size="20" font-weight="700" text-anchor="end" fill="#000" transform="rotate(-45 1054.6 1908.6)" >22</text>
<text x="873.8" y="1980.0" font-size="22" font-weight="700" text-anchor="middle" fill="#000" textLength="343.9" lengthAdjust="spacingAndGlyphs" >Days after intracranial challenge</text>
<g transform="rotate(-90 606.3 1746.0)"><text x="606.3" y="1731.5" font-size="23.7" text-anchor="middle" stroke="#000" stroke-width="0.75" textLength="180.4" lengthAdjust="spacingAndGlyphs">Grade of severity</text><text x="606.3" y="1759.0" font-size="23.7" text-anchor="middle" stroke="#000" stroke-width="0.75" textLength="228.4" lengthAdjust="spacingAndGlyphs">of neurological deficit</text></g>
<rect x="1084.3" y="1700.2" width="11.8" height="15.6" fill="#066a45" />
<text x="1105.1" y="1715.4" font-size="20" font-weight="700" text-anchor="start" fill="#000" textLength="134.8" lengthAdjust="spacingAndGlyphs" >Grade 4/death</text>
<rect x="1084.3" y="1737.3" width="11.8" height="15.6" fill="#0a9762" />
<text x="1105.1" y="1752.5" font-size="20" font-weight="700" text-anchor="start" fill="#000" >Grade 3</text>
<rect x="1084.3" y="1776.0" width="11.8" height="15.6" fill="#43efac" />
<text x="1105.1" y="1791.2" font-size="20" font-weight="700" text-anchor="start" fill="#000" >Grade 2</text>
<rect x="1084.3" y="1813.4" width="11.8" height="15.6" fill="#c9f6e4" />
<text x="1105.1" y="1828.6" font-size="20" font-weight="700" text-anchor="start" fill="#000" >Grade 1</text>
<rect x="1084.3" y="1850.5" width="11.8" height="15.6" fill="#fdbf83" />
<text x="1105.1" y="1865.7" font-size="20" font-weight="700" text-anchor="start" fill="#000" >Grade 0</text>
<text x="0" y="0" font-size="35.76" font-weight="700" transform="translate(4.52 2071.70) scale(0.743 1)">E</text>
<line x1="117.0" y1="2117.5" x2="566.5" y2="2117.5" stroke="#cfcfcf" stroke-width="2.2" stroke-dasharray="6 4.5"/>
<line x1="117.0" y1="2131.8" x2="566.5" y2="2131.8" stroke="#cfcfcf" stroke-width="2.2" stroke-dasharray="6 4.5"/>
<line x1="117.0" y1="2203.6" x2="566.5" y2="2203.6" stroke="#cfcfcf" stroke-width="2.2" stroke-dasharray="6 4.5"/>
<line x1="117.0" y1="2304.1" x2="566.5" y2="2304.1" stroke="#cfcfcf" stroke-width="2.2" stroke-dasharray="6 4.5"/>
<line x1="117.0" y1="2390.9" x2="566.5" y2="2390.9" stroke="#cfcfcf" stroke-width="2.2" stroke-dasharray="6 4.5"/>
<line x1="107.6" y1="2088.7" x2="107.6" y2="2406.0" stroke="#000" stroke-width="3" />
<line x1="104.5" y1="2404.5" x2="580.5" y2="2404.5" stroke="#000" stroke-width="3" />
<line x1="104.5" y1="2404.5" x2="107.6" y2="2404.5" stroke="#000" stroke-width="3" />
<text x="100.4" y="2412.1" font-size="22" font-weight="700" text-anchor="end" fill="#000" >0</text>
<line x1="104.5" y1="2332.8" x2="107.6" y2="2332.8" stroke="#000" stroke-width="3" />
<text x="100.4" y="2340.3" font-size="22" font-weight="700" text-anchor="end" fill="#000" >5</text>
<line x1="104.5" y1="2261.0" x2="107.6" y2="2261.0" stroke="#000" stroke-width="3" />
<text x="100.4" y="2268.6" font-size="22" font-weight="700" text-anchor="end" fill="#000" >10</text>
<line x1="104.5" y1="2189.2" x2="107.6" y2="2189.2" stroke="#000" stroke-width="3" />
<text x="100.4" y="2196.8" font-size="22" font-weight="700" text-anchor="end" fill="#000" >15</text>
<line x1="104.5" y1="2117.5" x2="107.6" y2="2117.5" stroke="#000" stroke-width="3" />
<text x="100.4" y="2125.1" font-size="22" font-weight="700" text-anchor="end" fill="#000" >20</text>
<line x1="141.5" y1="2404.5" x2="141.5" y2="2408.5" stroke="#000" stroke-width="3" />
<text x="141.5" y="2430.4" font-size="22" font-weight="700" text-anchor="middle" fill="#000" >-1</text>
<line x1="209.0" y1="2404.5" x2="209.0" y2="2408.5" stroke="#000" stroke-width="3" />
<text x="209.0" y="2430.4" font-size="22" font-weight="700" text-anchor="middle" fill="#000" >1</text>
<line x1="276.4" y1="2404.5" x2="276.4" y2="2408.5" stroke="#000" stroke-width="3" />
<text x="276.4" y="2430.4" font-size="22" font-weight="700" text-anchor="middle" fill="#000" >3</text>
<line x1="343.9" y1="2404.5" x2="343.9" y2="2408.5" stroke="#000" stroke-width="3" />
<text x="343.9" y="2430.4" font-size="22" font-weight="700" text-anchor="middle" fill="#000" >8</text>
<line x1="411.0" y1="2404.5" x2="411.0" y2="2408.5" stroke="#000" stroke-width="3" />
<text x="411.0" y="2430.4" font-size="22" font-weight="700" text-anchor="middle" fill="#000" >11</text>
<line x1="478.9" y1="2404.5" x2="478.9" y2="2408.5" stroke="#000" stroke-width="3" />
<text x="478.9" y="2430.4" font-size="22" font-weight="700" text-anchor="middle" fill="#000" >18</text>
<line x1="546.7" y1="2404.5" x2="546.7" y2="2408.5" stroke="#000" stroke-width="3" />
<text x="546.7" y="2430.4" font-size="22" font-weight="700" text-anchor="middle" fill="#000" >22</text>
<text x="344.3" y="2460.7" font-size="22.5" font-weight="700" text-anchor="middle" fill="#000" textLength="350.4" lengthAdjust="spacingAndGlyphs" >Days after intracranial challenge</text>
<text x="344.3" y="2486.6" font-size="22.5" font-weight="700" text-anchor="middle" fill="#000" textLength="171.8" lengthAdjust="spacingAndGlyphs" >with viable cells</text>
<g transform="rotate(-90 51.5 2238.5)"><text x="51.5" y="2223.4" font-size="25" font-weight="700" text-anchor="middle" textLength="203" lengthAdjust="spacingAndGlyphs">Grade of severity</text><text x="51.5" y="2253.9" font-size="25" font-weight="700" text-anchor="middle" textLength="258.9" lengthAdjust="spacingAndGlyphs">of neurological deficit</text></g>
<line x1="209.0" y1="2362.5" x2="209.0" y2="2354.3" stroke="#ff0000" stroke-width="2" />
<line x1="204.5" y1="2354.3" x2="213.5" y2="2354.3" stroke="#ff0000" stroke-width="2.2" />
<line x1="276.4" y1="2352.3" x2="276.4" y2="2344.9" stroke="#ff0000" stroke-width="2" />
<line x1="271.9" y1="2344.9" x2="280.9" y2="2344.9" stroke="#ff0000" stroke-width="2.2" />
<line x1="343.9" y1="2342.4" x2="343.9" y2="2337.1" stroke="#ff0000" stroke-width="2" />
<line x1="339.4" y1="2337.1" x2="348.4" y2="2337.1" stroke="#ff0000" stroke-width="2.2" />
<line x1="411.0" y1="2351.0" x2="411.0" y2="2343.2" stroke="#ff0000" stroke-width="2" />
<line x1="406.5" y1="2343.2" x2="415.5" y2="2343.2" stroke="#ff0000" stroke-width="2.2" />
<line x1="478.9" y1="2253.8" x2="478.9" y2="2231.6" stroke="#ff0000" stroke-width="2" />
<line x1="474.4" y1="2231.6" x2="483.4" y2="2231.6" stroke="#ff0000" stroke-width="2.2" />
<line x1="546.7" y1="2159.7" x2="546.7" y2="2140.5" stroke="#ff0000" stroke-width="2" />
<line x1="542.2" y1="2140.5" x2="551.2" y2="2140.5" stroke="#ff0000" stroke-width="2.2" />
<polyline points="141.5,2381.7 209.0,2362.5 276.4,2352.3 343.9,2342.4 411.0,2351.0 478.9,2253.8 546.7,2159.7" fill="none" stroke="#ff0000" stroke-width="3.3" stroke-linejoin="round"/>
<path d="M137.5,2378.7 L145.5,2378.7 L141.5,2385.2 Z" fill="#ff0000" stroke="none" stroke-width="1" />
<path d="M205.0,2359.5 L213.0,2359.5 L209.0,2366.0 Z" fill="#ff0000" stroke="none" stroke-width="1" />
<path d="M272.4,2349.3 L280.4,2349.3 L276.4,2355.8 Z" fill="#ff0000" stroke="none" stroke-width="1" />
<path d="M339.9,2339.4 L347.9,2339.4 L343.9,2345.9 Z" fill="#ff0000" stroke="none" stroke-width="1" />
<path d="M407.0,2348.0 L415.0,2348.0 L411.0,2354.5 Z" fill="#ff0000" stroke="none" stroke-width="1" />
<path d="M474.9,2250.8 L482.9,2250.8 L478.9,2257.3 Z" fill="#ff0000" stroke="none" stroke-width="1" />
<path d="M542.7,2156.7 L550.7,2156.7 L546.7,2163.2 Z" fill="#ff0000" stroke="none" stroke-width="1" />
<line x1="209.0" y1="2357.1" x2="209.0" y2="2348.5" stroke="#007f00" stroke-width="2" />
<line x1="204.5" y1="2348.5" x2="213.5" y2="2348.5" stroke="#007f00" stroke-width="2.2" />
<line x1="343.9" y1="2340.5" x2="343.9" y2="2331.7" stroke="#007f00" stroke-width="2" />
<line x1="339.4" y1="2331.7" x2="348.4" y2="2331.7" stroke="#007f00" stroke-width="2.2" />
<line x1="411.0" y1="2333.2" x2="411.0" y2="2312.5" stroke="#007f00" stroke-width="2" />
<line x1="406.5" y1="2312.5" x2="415.5" y2="2312.5" stroke="#007f00" stroke-width="2.2" />
<line x1="478.9" y1="2183.7" x2="478.9" y2="2155.2" stroke="#007f00" stroke-width="2" />
<line x1="474.4" y1="2155.2" x2="483.4" y2="2155.2" stroke="#007f00" stroke-width="2.2" />
<line x1="546.7" y1="2132.6" x2="546.7" y2="2118.9" stroke="#007f00" stroke-width="2" />
<line x1="542.2" y1="2118.9" x2="551.2" y2="2118.9" stroke="#007f00" stroke-width="2.2" />
<polyline points="141.5,2379.0 209.0,2357.1 276.4,2338.8 343.9,2340.5 411.0,2333.2 478.9,2183.7 546.7,2132.6" fill="none" stroke="#007f00" stroke-width="3.3" stroke-linejoin="round"/>
<circle cx="141.5" cy="2379.0" r="3.4" fill="#007f00" />
<circle cx="209.0" cy="2357.1" r="3.4" fill="#007f00" />
<circle cx="276.4" cy="2338.8" r="3.4" fill="#007f00" />
<circle cx="343.9" cy="2340.5" r="3.4" fill="#007f00" />
<circle cx="411.0" cy="2333.2" r="3.4" fill="#007f00" />
<circle cx="478.9" cy="2183.7" r="3.4" fill="#007f00" />
<circle cx="546.7" cy="2132.6" r="3.4" fill="#007f00" />
<line x1="141.5" y1="2377.2" x2="141.5" y2="2368.6" stroke="#00007f" stroke-width="2" />
<line x1="137.0" y1="2368.6" x2="146.0" y2="2368.6" stroke="#00007f" stroke-width="2.2" />
<line x1="209.0" y1="2340.9" x2="209.0" y2="2329.9" stroke="#00007f" stroke-width="2" />
<line x1="204.5" y1="2329.9" x2="213.5" y2="2329.9" stroke="#00007f" stroke-width="2.2" />
<line x1="411.0" y1="2270.3" x2="411.0" y2="2253.0" stroke="#00007f" stroke-width="2" />
<line x1="406.5" y1="2253.0" x2="415.5" y2="2253.0" stroke="#00007f" stroke-width="2.2" />
<polyline points="141.5,2377.2 209.0,2340.9 276.4,2333.5 343.9,2351.8 411.0,2270.3 478.9,2126.1 546.7,2117.5" fill="none" stroke="#00007f" stroke-width="3.3" stroke-linejoin="round"/>
<rect x="137.7" y="2373.4" width="7.6" height="7.6" fill="#00007f" />
<rect x="205.2" y="2337.1" width="7.6" height="7.6" fill="#00007f" />
<rect x="272.6" y="2329.7" width="7.6" height="7.6" fill="#00007f" />
<rect x="340.1" y="2348.0" width="7.6" height="7.6" fill="#00007f" />
<rect x="407.2" y="2266.5" width="7.6" height="7.6" fill="#00007f" />
<rect x="475.1" y="2122.3" width="7.6" height="7.6" fill="#00007f" />
<rect x="542.9" y="2113.7" width="7.6" height="7.6" fill="#00007f" />
<line x1="276.4" y1="2325.6" x2="276.4" y2="2311.7" stroke="#a6a6a8" stroke-width="2" />
<line x1="271.9" y1="2311.7" x2="280.9" y2="2311.7" stroke="#a6a6a8" stroke-width="2.2" />
<line x1="343.9" y1="2251.5" x2="343.9" y2="2231.9" stroke="#a6a6a8" stroke-width="2" />
<line x1="339.4" y1="2231.9" x2="348.4" y2="2231.9" stroke="#a6a6a8" stroke-width="2.2" />
<line x1="411.0" y1="2242.1" x2="411.0" y2="2217.9" stroke="#a6a6a8" stroke-width="2" />
<line x1="406.5" y1="2217.9" x2="415.5" y2="2217.9" stroke="#a6a6a8" stroke-width="2.2" />
<line x1="478.9" y1="2123.2" x2="478.9" y2="2118.9" stroke="#a6a6a8" stroke-width="2" />
<line x1="474.4" y1="2118.9" x2="483.4" y2="2118.9" stroke="#a6a6a8" stroke-width="2.2" />
<polyline points="141.5,2387.0 209.0,2357.1 276.4,2325.6 343.9,2251.5 411.0,2242.1 478.9,2123.2 546.7,2117.5" fill="none" stroke="#a6a6a8" stroke-width="3.3" stroke-linejoin="round"/>
<circle cx="141.5" cy="2387.0" r="3.8" fill="#a6a6a8" />
<circle cx="209.0" cy="2357.1" r="3.8" fill="#a6a6a8" />
<circle cx="276.4" cy="2325.6" r="3.8" fill="#a6a6a8" />
<circle cx="343.9" cy="2251.5" r="3.8" fill="#a6a6a8" />
<circle cx="411.0" cy="2242.1" r="3.8" fill="#a6a6a8" />
<circle cx="478.9" cy="2123.2" r="3.8" fill="#a6a6a8" />
<circle cx="546.7" cy="2117.5" r="3.8" fill="#a6a6a8" />
<text x="333.1" y="2333.4" font-size="24.4" font-weight="400" text-anchor="start" fill="#e8141c" stroke="#e8141c" stroke-width="0.7">*</text>
<text x="345.9" y="2333.4" font-size="24.4" font-weight="400" text-anchor="start" fill="#1a8a1a" stroke="#1a8a1a" stroke-width="0.7">*</text>
<text x="407.9" y="2313.2" font-size="24.4" font-weight="400" text-anchor="start" fill="#1a8a1a" stroke="#1a8a1a" stroke-width="0.7">*</text>
<text x="414.7" y="2362.6" font-size="17" font-weight="700" text-anchor="start" fill="#e8141c" stroke="#e8141c" stroke-width="0.5">#</text>
<text x="430.8" y="2369.1" font-size="24.4" font-weight="400" text-anchor="start" fill="#e8141c" stroke="#e8141c" stroke-width="0.7">*</text>
<text x="470.0" y="2227.1" font-size="17" font-weight="700" text-anchor="start" fill="#e8141c" stroke="#e8141c" stroke-width="0.5">#</text>
<text x="486.0" y="2233.6" font-size="24.4" font-weight="400" text-anchor="start" fill="#e8141c" stroke="#e8141c" stroke-width="0.7">*</text>
<line x1="537.3" y1="2249.1" x2="552.8" y2="2249.1" stroke="#ff0000" stroke-width="3.3" />
<path d="M541,2246.1 L549,2246.1 L545,2252.6 Z" fill="#ff0000" stroke="none" stroke-width="1" />
<text x="561.8" y="2257.4" font-size="23" font-weight="400" text-anchor="start" fill="#000" textLength="204.7" lengthAdjust="spacingAndGlyphs" >DC + PS-PDT (n=7)</text>
<line x1="537.3" y1="2284.6" x2="552.8" y2="2284.6" stroke="#007f00" stroke-width="3.3" />
<circle cx="545.0" cy="2284.6" r="3.6" fill="#007f00" />
<text x="561.8" y="2292.9" font-size="23" font-weight="400" text-anchor="start" fill="#000" >DC + MTX (n=7)</text>
<line x1="537.3" y1="2321.0" x2="552.8" y2="2321.0" stroke="#00007f" stroke-width="3.3" />
<rect x="541.2" y="2317.2" width="7.6" height="7.6" fill="#00007f" />
<text x="561.8" y="2329.3" font-size="23" font-weight="400" text-anchor="start" fill="#000" >DC + F/T (n=6)</text>
<line x1="537.3" y1="2356.1" x2="552.8" y2="2356.1" stroke="#a6a6a8" stroke-width="3.3" />
<circle cx="545.0" cy="2356.1" r="3.6" fill="#a6a6a8" />
<text x="561.8" y="2364.4" font-size="23" font-weight="400" text-anchor="start" fill="#000" >PBS (n=6)</text>
</svg>
</body></html>
